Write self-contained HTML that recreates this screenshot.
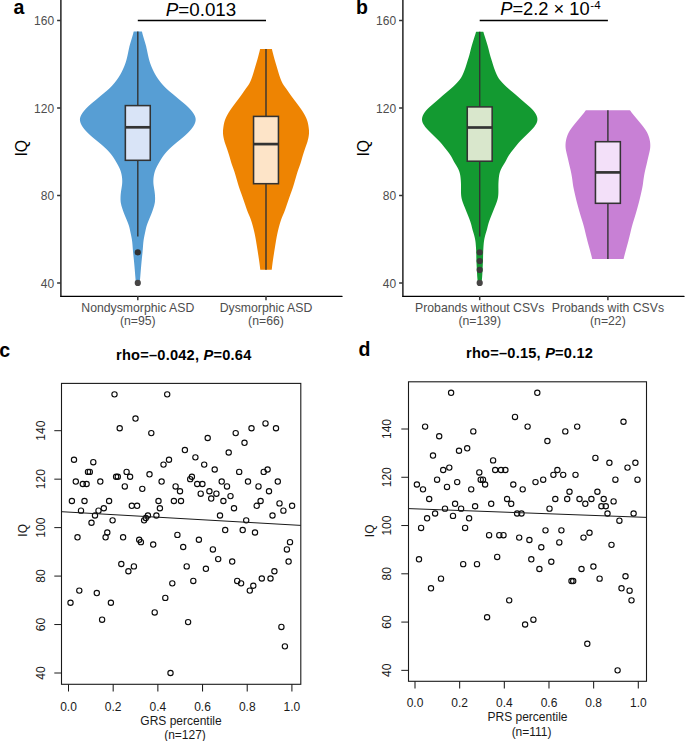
<!DOCTYPE html>
<html><head><meta charset="utf-8"><style>
html,body{margin:0;padding:0;background:#fff;width:685px;height:741px;overflow:hidden}
svg{display:block;font-family:"Liberation Sans", sans-serif}
</style></head><body>
<svg width="685" height="741" viewBox="0 0 685 741">
<line x1="60.90" y1="0" x2="60.90" y2="296.4" stroke="#000" stroke-width="1.3" stroke-linecap="round"/>
<line x1="60.90" y1="296.4" x2="342.00" y2="296.4" stroke="#000" stroke-width="1.3" stroke-linecap="round"/>
<line x1="57.10" y1="283.00" x2="60.90" y2="283.00" stroke="#333" stroke-width="1.5"/>
<text x="54.10" y="287.60" font-size="12" fill="#4d4d4d" text-anchor="end">40</text>
<line x1="57.10" y1="195.50" x2="60.90" y2="195.50" stroke="#333" stroke-width="1.5"/>
<text x="54.10" y="200.10" font-size="12" fill="#4d4d4d" text-anchor="end">80</text>
<line x1="57.10" y1="108.00" x2="60.90" y2="108.00" stroke="#333" stroke-width="1.5"/>
<text x="54.10" y="112.60" font-size="12" fill="#4d4d4d" text-anchor="end">120</text>
<line x1="57.10" y1="20.50" x2="60.90" y2="20.50" stroke="#333" stroke-width="1.5"/>
<text x="54.10" y="25.10" font-size="12" fill="#4d4d4d" text-anchor="end">160</text>
<text transform="translate(27.10,148.2) rotate(-90)" font-size="15.8" fill="#000" text-anchor="middle">IQ</text>
<text x="13.40" y="14.1" font-size="19.5" font-weight="bold" fill="#000">a</text>
<path d="M141.80,31.60 L142.06,32.10 L142.16,32.60 L142.27,33.10 L142.40,33.60 L142.53,34.10 L142.67,34.60 L142.81,35.11 L142.95,35.61 L143.10,36.11 L143.24,36.61 L143.39,37.11 L143.54,37.61 L143.69,38.11 L143.84,38.61 L143.99,39.11 L144.14,39.61 L144.29,40.11 L144.44,40.61 L144.59,41.12 L144.74,41.62 L144.90,42.12 L145.05,42.62 L145.19,43.12 L145.34,43.62 L145.49,44.12 L145.63,44.62 L145.77,45.12 L145.91,45.62 L146.05,46.12 L146.18,46.62 L146.31,47.12 L146.43,47.63 L146.55,48.13 L146.67,48.63 L146.78,49.13 L146.89,49.63 L147.00,50.13 L147.10,50.63 L147.21,51.13 L147.31,51.63 L147.41,52.13 L147.51,52.63 L147.61,53.13 L147.72,53.64 L147.82,54.14 L147.93,54.64 L148.04,55.14 L148.15,55.64 L148.26,56.14 L148.38,56.64 L148.50,57.14 L148.61,57.64 L148.73,58.14 L148.86,58.64 L148.99,59.14 L149.12,59.64 L149.26,60.15 L149.40,60.65 L149.55,61.15 L149.70,61.65 L149.86,62.15 L150.02,62.65 L150.19,63.15 L150.37,63.65 L150.55,64.15 L150.74,64.65 L150.93,65.15 L151.12,65.65 L151.32,66.15 L151.53,66.66 L151.74,67.16 L151.95,67.66 L152.17,68.16 L152.39,68.66 L152.61,69.16 L152.84,69.66 L153.08,70.16 L153.32,70.66 L153.56,71.16 L153.81,71.66 L154.06,72.16 L154.32,72.67 L154.59,73.17 L154.86,73.67 L155.14,74.17 L155.42,74.67 L155.72,75.17 L156.02,75.67 L156.33,76.17 L156.64,76.67 L156.96,77.17 L157.29,77.67 L157.63,78.17 L157.97,78.67 L158.32,79.18 L158.68,79.68 L159.04,80.18 L159.42,80.68 L159.80,81.18 L160.19,81.68 L160.58,82.18 L160.99,82.68 L161.40,83.18 L161.82,83.68 L162.25,84.18 L162.69,84.68 L163.14,85.19 L163.59,85.69 L164.06,86.19 L164.54,86.69 L165.03,87.19 L165.53,87.69 L166.04,88.19 L166.57,88.69 L167.11,89.19 L167.66,89.69 L168.23,90.19 L168.81,90.69 L169.40,91.19 L170.00,91.70 L170.60,92.20 L171.21,92.70 L171.82,93.20 L172.43,93.70 L173.04,94.20 L173.64,94.70 L174.24,95.20 L174.84,95.70 L175.43,96.20 L176.02,96.70 L176.60,97.20 L177.19,97.71 L177.77,98.21 L178.36,98.71 L178.96,99.21 L179.55,99.71 L180.16,100.21 L180.77,100.71 L181.38,101.21 L182.00,101.71 L182.61,102.21 L183.22,102.71 L183.83,103.21 L184.42,103.71 L185.00,104.22 L185.58,104.72 L186.14,105.22 L186.68,105.72 L187.22,106.22 L187.74,106.72 L188.25,107.22 L188.75,107.72 L189.23,108.22 L189.70,108.72 L190.16,109.22 L190.60,109.72 L191.04,110.23 L191.46,110.73 L191.86,111.23 L192.25,111.73 L192.62,112.23 L192.98,112.73 L193.32,113.23 L193.64,113.73 L193.95,114.23 L194.23,114.73 L194.50,115.23 L194.74,115.73 L194.96,116.23 L195.15,116.74 L195.32,117.24 L195.45,117.74 L195.55,118.24 L195.62,118.74 L195.66,119.24 L195.66,119.74 L195.63,120.24 L195.57,120.74 L195.49,121.24 L195.37,121.74 L195.24,122.24 L195.08,122.75 L194.90,123.25 L194.69,123.75 L194.47,124.25 L194.22,124.75 L193.96,125.25 L193.68,125.75 L193.37,126.25 L193.05,126.75 L192.71,127.25 L192.35,127.75 L191.98,128.25 L191.59,128.75 L191.19,129.26 L190.77,129.76 L190.34,130.26 L189.89,130.76 L189.43,131.26 L188.96,131.76 L188.48,132.26 L187.98,132.76 L187.48,133.26 L186.96,133.76 L186.43,134.26 L185.90,134.76 L185.35,135.26 L184.79,135.77 L184.22,136.27 L183.65,136.77 L183.07,137.27 L182.48,137.77 L181.88,138.27 L181.28,138.77 L180.67,139.27 L180.05,139.77 L179.43,140.27 L178.82,140.77 L178.20,141.27 L177.59,141.78 L176.97,142.28 L176.37,142.78 L175.76,143.28 L175.17,143.78 L174.57,144.28 L173.99,144.78 L173.40,145.28 L172.83,145.78 L172.26,146.28 L171.71,146.78 L171.16,147.28 L170.62,147.78 L170.09,148.29 L169.56,148.79 L169.05,149.29 L168.55,149.79 L168.06,150.29 L167.58,150.79 L167.11,151.29 L166.66,151.79 L166.21,152.29 L165.78,152.79 L165.36,153.29 L164.94,153.79 L164.54,154.30 L164.15,154.80 L163.77,155.30 L163.40,155.80 L163.04,156.30 L162.68,156.80 L162.34,157.30 L162.01,157.80 L161.69,158.30 L161.37,158.80 L161.06,159.30 L160.75,159.80 L160.45,160.30 L160.15,160.81 L159.86,161.31 L159.56,161.81 L159.27,162.31 L158.98,162.81 L158.69,163.31 L158.41,163.81 L158.13,164.31 L157.86,164.81 L157.59,165.31 L157.32,165.81 L157.06,166.31 L156.80,166.82 L156.55,167.32 L156.31,167.82 L156.08,168.32 L155.85,168.82 L155.64,169.32 L155.44,169.82 L155.25,170.32 L155.07,170.82 L154.91,171.32 L154.75,171.82 L154.61,172.32 L154.47,172.82 L154.34,173.33 L154.22,173.83 L154.11,174.33 L154.01,174.83 L153.91,175.33 L153.82,175.83 L153.74,176.33 L153.67,176.83 L153.60,177.33 L153.54,177.83 L153.49,178.33 L153.45,178.83 L153.42,179.34 L153.39,179.84 L153.37,180.34 L153.36,180.84 L153.35,181.34 L153.36,181.84 L153.37,182.34 L153.39,182.84 L153.42,183.34 L153.46,183.84 L153.51,184.34 L153.56,184.84 L153.62,185.34 L153.69,185.85 L153.76,186.35 L153.84,186.85 L153.92,187.35 L153.99,187.85 L154.07,188.35 L154.15,188.85 L154.23,189.35 L154.31,189.85 L154.39,190.35 L154.46,190.85 L154.54,191.35 L154.61,191.85 L154.67,192.36 L154.73,192.86 L154.79,193.36 L154.84,193.86 L154.89,194.36 L154.93,194.86 L154.97,195.36 L155.00,195.86 L155.02,196.36 L155.05,196.86 L155.06,197.36 L155.08,197.86 L155.08,198.37 L155.09,198.87 L155.08,199.37 L155.07,199.87 L155.05,200.37 L155.02,200.87 L154.99,201.37 L154.93,201.87 L154.87,202.37 L154.79,202.87 L154.70,203.37 L154.59,203.87 L154.47,204.37 L154.34,204.88 L154.21,205.38 L154.06,205.88 L153.91,206.38 L153.76,206.88 L153.60,207.38 L153.45,207.88 L153.29,208.38 L153.12,208.88 L152.96,209.38 L152.79,209.88 L152.62,210.38 L152.45,210.89 L152.27,211.39 L152.09,211.89 L151.91,212.39 L151.72,212.89 L151.52,213.39 L151.33,213.89 L151.13,214.39 L150.92,214.89 L150.72,215.39 L150.51,215.89 L150.31,216.39 L150.10,216.89 L149.89,217.40 L149.68,217.90 L149.47,218.40 L149.26,218.90 L149.05,219.40 L148.84,219.90 L148.64,220.40 L148.44,220.90 L148.23,221.40 L148.04,221.90 L147.84,222.40 L147.65,222.90 L147.46,223.41 L147.28,223.91 L147.10,224.41 L146.93,224.91 L146.76,225.41 L146.61,225.91 L146.46,226.41 L146.32,226.91 L146.19,227.41 L146.07,227.91 L145.95,228.41 L145.84,228.91 L145.73,229.41 L145.62,229.92 L145.52,230.42 L145.41,230.92 L145.31,231.42 L145.20,231.92 L145.09,232.42 L144.99,232.92 L144.88,233.42 L144.77,233.92 L144.67,234.42 L144.56,234.92 L144.46,235.42 L144.36,235.93 L144.25,236.43 L144.16,236.93 L144.06,237.43 L143.97,237.93 L143.88,238.43 L143.79,238.93 L143.71,239.43 L143.64,239.93 L143.56,240.43 L143.50,240.93 L143.44,241.43 L143.38,241.93 L143.32,242.44 L143.27,242.94 L143.23,243.44 L143.18,243.94 L143.14,244.44 L143.10,244.94 L143.06,245.44 L143.02,245.94 L142.98,246.44 L142.94,246.94 L142.91,247.44 L142.87,247.94 L142.83,248.45 L142.79,248.95 L142.75,249.45 L142.71,249.95 L142.67,250.45 L142.62,250.95 L142.58,251.45 L142.53,251.95 L142.49,252.45 L142.44,252.95 L142.39,253.45 L142.34,253.95 L142.29,254.45 L142.23,254.96 L142.18,255.46 L142.13,255.96 L142.08,256.46 L142.02,256.96 L141.97,257.46 L141.92,257.96 L141.87,258.46 L141.82,258.96 L141.77,259.46 L141.72,259.96 L141.67,260.46 L141.62,260.96 L141.57,261.47 L141.52,261.97 L141.48,262.47 L141.43,262.97 L141.38,263.47 L141.34,263.97 L141.29,264.47 L141.25,264.97 L141.20,265.47 L141.16,265.97 L141.11,266.47 L141.07,266.97 L141.02,267.48 L140.98,267.98 L140.94,268.48 L140.90,268.98 L140.85,269.48 L140.81,269.98 L140.77,270.48 L140.73,270.98 L140.69,271.48 L140.65,271.98 L140.61,272.48 L140.57,272.98 L140.53,273.48 L140.49,273.99 L140.45,274.49 L140.41,274.99 L140.37,275.49 L140.33,275.99 L140.29,276.49 L140.25,276.99 L140.20,277.49 L140.16,277.99 L140.12,278.49 L140.07,278.99 L140.03,279.49 L139.98,280.00 L139.94,280.50 L139.90,281.00 L139.86,281.50 L139.82,282.00 L139.79,282.50 L139.70,283.00 L135.90,283.00 L135.81,282.50 L135.78,282.00 L135.74,281.50 L135.70,281.00 L135.66,280.50 L135.62,280.00 L135.57,279.49 L135.53,278.99 L135.48,278.49 L135.44,277.99 L135.40,277.49 L135.35,276.99 L135.31,276.49 L135.27,275.99 L135.23,275.49 L135.19,274.99 L135.15,274.49 L135.11,273.99 L135.07,273.48 L135.03,272.98 L134.99,272.48 L134.95,271.98 L134.91,271.48 L134.87,270.98 L134.83,270.48 L134.79,269.98 L134.75,269.48 L134.70,268.98 L134.66,268.48 L134.62,267.98 L134.58,267.48 L134.53,266.97 L134.49,266.47 L134.44,265.97 L134.40,265.47 L134.35,264.97 L134.31,264.47 L134.26,263.97 L134.22,263.47 L134.17,262.97 L134.12,262.47 L134.08,261.97 L134.03,261.47 L133.98,260.96 L133.93,260.46 L133.88,259.96 L133.83,259.46 L133.78,258.96 L133.73,258.46 L133.68,257.96 L133.63,257.46 L133.58,256.96 L133.52,256.46 L133.47,255.96 L133.42,255.46 L133.37,254.96 L133.31,254.45 L133.26,253.95 L133.21,253.45 L133.16,252.95 L133.11,252.45 L133.07,251.95 L133.02,251.45 L132.98,250.95 L132.93,250.45 L132.89,249.95 L132.85,249.45 L132.81,248.95 L132.77,248.45 L132.73,247.94 L132.69,247.44 L132.66,246.94 L132.62,246.44 L132.58,245.94 L132.54,245.44 L132.50,244.94 L132.46,244.44 L132.42,243.94 L132.37,243.44 L132.33,242.94 L132.28,242.44 L132.22,241.93 L132.16,241.43 L132.10,240.93 L132.04,240.43 L131.96,239.93 L131.89,239.43 L131.81,238.93 L131.72,238.43 L131.63,237.93 L131.54,237.43 L131.44,236.93 L131.35,236.43 L131.24,235.93 L131.14,235.42 L131.04,234.92 L130.93,234.42 L130.83,233.92 L130.72,233.42 L130.61,232.92 L130.51,232.42 L130.40,231.92 L130.29,231.42 L130.19,230.92 L130.08,230.42 L129.98,229.92 L129.87,229.41 L129.76,228.91 L129.65,228.41 L129.53,227.91 L129.41,227.41 L129.28,226.91 L129.14,226.41 L128.99,225.91 L128.84,225.41 L128.67,224.91 L128.50,224.41 L128.32,223.91 L128.14,223.41 L127.95,222.90 L127.76,222.40 L127.56,221.90 L127.37,221.40 L127.16,220.90 L126.96,220.40 L126.76,219.90 L126.55,219.40 L126.34,218.90 L126.13,218.40 L125.92,217.90 L125.71,217.40 L125.50,216.89 L125.29,216.39 L125.09,215.89 L124.88,215.39 L124.68,214.89 L124.47,214.39 L124.27,213.89 L124.08,213.39 L123.88,212.89 L123.69,212.39 L123.51,211.89 L123.33,211.39 L123.15,210.89 L122.98,210.38 L122.81,209.88 L122.64,209.38 L122.48,208.88 L122.31,208.38 L122.15,207.88 L122.00,207.38 L121.84,206.88 L121.69,206.38 L121.54,205.88 L121.39,205.38 L121.26,204.88 L121.13,204.37 L121.01,203.87 L120.90,203.37 L120.81,202.87 L120.73,202.37 L120.67,201.87 L120.61,201.37 L120.58,200.87 L120.55,200.37 L120.53,199.87 L120.52,199.37 L120.51,198.87 L120.52,198.37 L120.52,197.86 L120.54,197.36 L120.55,196.86 L120.58,196.36 L120.60,195.86 L120.63,195.36 L120.67,194.86 L120.71,194.36 L120.76,193.86 L120.81,193.36 L120.87,192.86 L120.93,192.36 L120.99,191.85 L121.06,191.35 L121.14,190.85 L121.21,190.35 L121.29,189.85 L121.37,189.35 L121.45,188.85 L121.53,188.35 L121.61,187.85 L121.68,187.35 L121.76,186.85 L121.84,186.35 L121.91,185.85 L121.98,185.34 L122.04,184.84 L122.09,184.34 L122.14,183.84 L122.18,183.34 L122.21,182.84 L122.23,182.34 L122.24,181.84 L122.25,181.34 L122.24,180.84 L122.23,180.34 L122.21,179.84 L122.18,179.34 L122.15,178.83 L122.11,178.33 L122.06,177.83 L122.00,177.33 L121.93,176.83 L121.86,176.33 L121.78,175.83 L121.69,175.33 L121.59,174.83 L121.49,174.33 L121.38,173.83 L121.26,173.33 L121.13,172.82 L120.99,172.32 L120.85,171.82 L120.69,171.32 L120.53,170.82 L120.35,170.32 L120.16,169.82 L119.96,169.32 L119.75,168.82 L119.52,168.32 L119.29,167.82 L119.05,167.32 L118.80,166.82 L118.54,166.31 L118.28,165.81 L118.01,165.31 L117.74,164.81 L117.47,164.31 L117.19,163.81 L116.91,163.31 L116.62,162.81 L116.33,162.31 L116.04,161.81 L115.74,161.31 L115.45,160.81 L115.15,160.30 L114.85,159.80 L114.54,159.30 L114.23,158.80 L113.91,158.30 L113.59,157.80 L113.26,157.30 L112.92,156.80 L112.56,156.30 L112.20,155.80 L111.83,155.30 L111.45,154.80 L111.06,154.30 L110.66,153.79 L110.24,153.29 L109.82,152.79 L109.39,152.29 L108.94,151.79 L108.49,151.29 L108.02,150.79 L107.54,150.29 L107.05,149.79 L106.55,149.29 L106.04,148.79 L105.51,148.29 L104.98,147.78 L104.44,147.28 L103.89,146.78 L103.34,146.28 L102.77,145.78 L102.20,145.28 L101.61,144.78 L101.03,144.28 L100.43,143.78 L99.84,143.28 L99.23,142.78 L98.63,142.28 L98.01,141.78 L97.40,141.27 L96.78,140.77 L96.17,140.27 L95.55,139.77 L94.93,139.27 L94.32,138.77 L93.72,138.27 L93.12,137.77 L92.53,137.27 L91.95,136.77 L91.38,136.27 L90.81,135.77 L90.25,135.26 L89.70,134.76 L89.17,134.26 L88.64,133.76 L88.12,133.26 L87.62,132.76 L87.12,132.26 L86.64,131.76 L86.17,131.26 L85.71,130.76 L85.26,130.26 L84.83,129.76 L84.41,129.26 L84.01,128.75 L83.62,128.25 L83.25,127.75 L82.89,127.25 L82.55,126.75 L82.23,126.25 L81.92,125.75 L81.64,125.25 L81.38,124.75 L81.13,124.25 L80.91,123.75 L80.70,123.25 L80.52,122.75 L80.36,122.24 L80.23,121.74 L80.11,121.24 L80.03,120.74 L79.97,120.24 L79.94,119.74 L79.94,119.24 L79.98,118.74 L80.05,118.24 L80.15,117.74 L80.28,117.24 L80.45,116.74 L80.64,116.23 L80.86,115.73 L81.10,115.23 L81.37,114.73 L81.65,114.23 L81.96,113.73 L82.28,113.23 L82.62,112.73 L82.98,112.23 L83.35,111.73 L83.74,111.23 L84.14,110.73 L84.56,110.23 L85.00,109.72 L85.44,109.22 L85.90,108.72 L86.37,108.22 L86.85,107.72 L87.35,107.22 L87.86,106.72 L88.38,106.22 L88.92,105.72 L89.46,105.22 L90.02,104.72 L90.60,104.22 L91.18,103.71 L91.77,103.21 L92.38,102.71 L92.99,102.21 L93.60,101.71 L94.22,101.21 L94.83,100.71 L95.44,100.21 L96.05,99.71 L96.64,99.21 L97.24,98.71 L97.83,98.21 L98.41,97.71 L99.00,97.20 L99.58,96.70 L100.17,96.20 L100.76,95.70 L101.36,95.20 L101.96,94.70 L102.56,94.20 L103.17,93.70 L103.78,93.20 L104.39,92.70 L105.00,92.20 L105.60,91.70 L106.20,91.19 L106.79,90.69 L107.37,90.19 L107.94,89.69 L108.49,89.19 L109.03,88.69 L109.56,88.19 L110.07,87.69 L110.57,87.19 L111.06,86.69 L111.54,86.19 L112.01,85.69 L112.46,85.19 L112.91,84.68 L113.35,84.18 L113.78,83.68 L114.20,83.18 L114.61,82.68 L115.02,82.18 L115.41,81.68 L115.80,81.18 L116.18,80.68 L116.56,80.18 L116.92,79.68 L117.28,79.18 L117.63,78.67 L117.97,78.17 L118.31,77.67 L118.64,77.17 L118.96,76.67 L119.27,76.17 L119.58,75.67 L119.88,75.17 L120.18,74.67 L120.46,74.17 L120.74,73.67 L121.01,73.17 L121.28,72.67 L121.54,72.16 L121.79,71.66 L122.04,71.16 L122.28,70.66 L122.52,70.16 L122.76,69.66 L122.99,69.16 L123.21,68.66 L123.43,68.16 L123.65,67.66 L123.86,67.16 L124.07,66.66 L124.28,66.15 L124.48,65.65 L124.67,65.15 L124.86,64.65 L125.05,64.15 L125.23,63.65 L125.41,63.15 L125.58,62.65 L125.74,62.15 L125.90,61.65 L126.05,61.15 L126.20,60.65 L126.34,60.15 L126.48,59.64 L126.61,59.14 L126.74,58.64 L126.87,58.14 L126.99,57.64 L127.10,57.14 L127.22,56.64 L127.34,56.14 L127.45,55.64 L127.56,55.14 L127.67,54.64 L127.78,54.14 L127.88,53.64 L127.99,53.13 L128.09,52.63 L128.19,52.13 L128.29,51.63 L128.39,51.13 L128.50,50.63 L128.60,50.13 L128.71,49.63 L128.82,49.13 L128.93,48.63 L129.05,48.13 L129.17,47.63 L129.29,47.12 L129.42,46.62 L129.55,46.12 L129.69,45.62 L129.83,45.12 L129.97,44.62 L130.11,44.12 L130.26,43.62 L130.41,43.12 L130.55,42.62 L130.70,42.12 L130.86,41.62 L131.01,41.12 L131.16,40.61 L131.31,40.11 L131.46,39.61 L131.61,39.11 L131.76,38.61 L131.91,38.11 L132.06,37.61 L132.21,37.11 L132.36,36.61 L132.50,36.11 L132.65,35.61 L132.79,35.11 L132.93,34.60 L133.07,34.10 L133.20,33.60 L133.33,33.10 L133.44,32.60 L133.54,32.10 L133.80,31.60 Z" fill="#579ed4"/>
<line x1="137.80" y1="31.60" x2="137.80" y2="105.60" stroke="#333333" stroke-width="1.4"/>
<line x1="137.80" y1="160.30" x2="137.80" y2="236.60" stroke="#333333" stroke-width="1.4"/>
<rect x="125.35" y="105.60" width="24.90" height="54.70" fill="#d9e4f7" stroke="#333333" stroke-width="1.55"/>
<line x1="125.35" y1="127.30" x2="150.25" y2="127.30" stroke="#333333" stroke-width="2.7"/>
<circle cx="137.80" cy="252.40" r="3.1" fill="#303030"/>
<circle cx="137.80" cy="282.90" r="3.1" fill="#474545"/>
<path d="M271.80,49.00 L272.05,49.50 L272.14,50.00 L272.24,50.50 L272.36,51.00 L272.48,51.50 L272.61,52.00 L272.74,52.50 L272.87,53.01 L273.00,53.51 L273.13,54.01 L273.26,54.51 L273.39,55.01 L273.52,55.51 L273.65,56.01 L273.78,56.51 L273.91,57.01 L274.04,57.51 L274.18,58.01 L274.32,58.51 L274.46,59.01 L274.60,59.51 L274.74,60.01 L274.89,60.52 L275.04,61.02 L275.19,61.52 L275.34,62.02 L275.48,62.52 L275.63,63.02 L275.78,63.52 L275.93,64.02 L276.08,64.52 L276.23,65.02 L276.38,65.52 L276.53,66.02 L276.68,66.52 L276.83,67.02 L276.97,67.53 L277.12,68.03 L277.27,68.53 L277.42,69.03 L277.56,69.53 L277.71,70.03 L277.86,70.53 L278.00,71.03 L278.15,71.53 L278.30,72.03 L278.45,72.53 L278.60,73.03 L278.75,73.53 L278.90,74.03 L279.06,74.53 L279.22,75.04 L279.38,75.54 L279.55,76.04 L279.72,76.54 L279.89,77.04 L280.06,77.54 L280.24,78.04 L280.43,78.54 L280.61,79.04 L280.81,79.54 L281.01,80.04 L281.21,80.54 L281.43,81.04 L281.65,81.54 L281.88,82.04 L282.12,82.55 L282.37,83.05 L282.64,83.55 L282.93,84.05 L283.23,84.55 L283.55,85.05 L283.89,85.55 L284.25,86.05 L284.61,86.55 L284.98,87.05 L285.35,87.55 L285.72,88.05 L286.08,88.55 L286.44,89.05 L286.79,89.56 L287.14,90.06 L287.49,90.56 L287.84,91.06 L288.18,91.56 L288.52,92.06 L288.87,92.56 L289.21,93.06 L289.56,93.56 L289.90,94.06 L290.25,94.56 L290.61,95.06 L290.96,95.56 L291.32,96.06 L291.69,96.56 L292.05,97.07 L292.42,97.57 L292.79,98.07 L293.17,98.57 L293.55,99.07 L293.93,99.57 L294.31,100.07 L294.69,100.57 L295.07,101.07 L295.45,101.57 L295.83,102.07 L296.21,102.57 L296.58,103.07 L296.96,103.57 L297.33,104.07 L297.70,104.58 L298.07,105.08 L298.44,105.58 L298.81,106.08 L299.18,106.58 L299.54,107.08 L299.91,107.58 L300.27,108.08 L300.63,108.58 L300.98,109.08 L301.33,109.58 L301.67,110.08 L302.00,110.58 L302.33,111.08 L302.66,111.59 L302.97,112.09 L303.28,112.59 L303.58,113.09 L303.87,113.59 L304.16,114.09 L304.44,114.59 L304.71,115.09 L304.98,115.59 L305.23,116.09 L305.49,116.59 L305.73,117.09 L305.97,117.59 L306.19,118.09 L306.41,118.59 L306.62,119.10 L306.81,119.60 L307.00,120.10 L307.17,120.60 L307.33,121.10 L307.48,121.60 L307.62,122.10 L307.75,122.60 L307.87,123.10 L307.99,123.60 L308.09,124.10 L308.19,124.60 L308.28,125.10 L308.36,125.60 L308.44,126.10 L308.52,126.61 L308.59,127.11 L308.66,127.61 L308.72,128.11 L308.78,128.61 L308.84,129.11 L308.89,129.61 L308.94,130.11 L308.98,130.61 L309.00,131.11 L309.02,131.61 L309.03,132.11 L309.02,132.61 L309.01,133.11 L308.98,133.61 L308.94,134.12 L308.90,134.62 L308.84,135.12 L308.78,135.62 L308.71,136.12 L308.63,136.62 L308.54,137.12 L308.45,137.62 L308.35,138.12 L308.24,138.62 L308.12,139.12 L308.00,139.62 L307.86,140.12 L307.73,140.62 L307.58,141.13 L307.43,141.63 L307.27,142.13 L307.11,142.63 L306.94,143.13 L306.77,143.63 L306.59,144.13 L306.42,144.63 L306.24,145.13 L306.06,145.63 L305.88,146.13 L305.70,146.63 L305.52,147.13 L305.35,147.63 L305.17,148.13 L305.00,148.64 L304.83,149.14 L304.66,149.64 L304.50,150.14 L304.33,150.64 L304.17,151.14 L304.00,151.64 L303.84,152.14 L303.68,152.64 L303.52,153.14 L303.36,153.64 L303.20,154.14 L303.04,154.64 L302.89,155.14 L302.73,155.64 L302.58,156.15 L302.43,156.65 L302.28,157.15 L302.14,157.65 L302.00,158.15 L301.86,158.65 L301.72,159.15 L301.58,159.65 L301.44,160.15 L301.30,160.65 L301.16,161.15 L301.02,161.65 L300.87,162.15 L300.71,162.65 L300.55,163.16 L300.39,163.66 L300.22,164.16 L300.05,164.66 L299.87,165.16 L299.69,165.66 L299.51,166.16 L299.33,166.66 L299.14,167.16 L298.96,167.66 L298.78,168.16 L298.60,168.66 L298.42,169.16 L298.24,169.66 L298.07,170.16 L297.90,170.67 L297.73,171.17 L297.57,171.67 L297.41,172.17 L297.25,172.67 L297.09,173.17 L296.94,173.67 L296.79,174.17 L296.64,174.67 L296.50,175.17 L296.35,175.67 L296.21,176.17 L296.06,176.67 L295.92,177.17 L295.77,177.67 L295.63,178.18 L295.48,178.68 L295.34,179.18 L295.19,179.68 L295.05,180.18 L294.90,180.68 L294.76,181.18 L294.61,181.68 L294.47,182.18 L294.32,182.68 L294.18,183.18 L294.03,183.68 L293.88,184.18 L293.73,184.68 L293.58,185.19 L293.43,185.69 L293.27,186.19 L293.11,186.69 L292.95,187.19 L292.79,187.69 L292.62,188.19 L292.45,188.69 L292.28,189.19 L292.10,189.69 L291.92,190.19 L291.74,190.69 L291.56,191.19 L291.38,191.69 L291.20,192.19 L291.02,192.70 L290.84,193.20 L290.65,193.70 L290.47,194.20 L290.29,194.70 L290.11,195.20 L289.94,195.70 L289.76,196.20 L289.58,196.70 L289.41,197.20 L289.23,197.70 L289.06,198.20 L288.89,198.70 L288.71,199.20 L288.54,199.70 L288.37,200.21 L288.20,200.71 L288.02,201.21 L287.85,201.71 L287.68,202.21 L287.51,202.71 L287.34,203.21 L287.17,203.71 L286.99,204.21 L286.82,204.71 L286.65,205.21 L286.48,205.71 L286.32,206.21 L286.15,206.71 L285.98,207.21 L285.81,207.72 L285.63,208.22 L285.46,208.72 L285.29,209.22 L285.11,209.72 L284.93,210.22 L284.74,210.72 L284.55,211.22 L284.36,211.72 L284.16,212.22 L283.96,212.72 L283.75,213.22 L283.54,213.72 L283.32,214.22 L283.11,214.73 L282.89,215.23 L282.67,215.73 L282.46,216.23 L282.25,216.73 L282.04,217.23 L281.84,217.73 L281.65,218.23 L281.46,218.73 L281.28,219.23 L281.10,219.73 L280.93,220.23 L280.77,220.73 L280.61,221.23 L280.45,221.73 L280.29,222.24 L280.14,222.74 L279.99,223.24 L279.85,223.74 L279.70,224.24 L279.56,224.74 L279.42,225.24 L279.28,225.74 L279.14,226.24 L279.01,226.74 L278.88,227.24 L278.75,227.74 L278.62,228.24 L278.49,228.74 L278.37,229.24 L278.24,229.75 L278.12,230.25 L278.00,230.75 L277.89,231.25 L277.77,231.75 L277.66,232.25 L277.55,232.75 L277.44,233.25 L277.33,233.75 L277.23,234.25 L277.12,234.75 L277.02,235.25 L276.92,235.75 L276.82,236.25 L276.72,236.76 L276.63,237.26 L276.53,237.76 L276.44,238.26 L276.35,238.76 L276.26,239.26 L276.18,239.76 L276.09,240.26 L276.01,240.76 L275.92,241.26 L275.84,241.76 L275.76,242.26 L275.68,242.76 L275.60,243.26 L275.52,243.76 L275.43,244.27 L275.35,244.77 L275.27,245.27 L275.19,245.77 L275.11,246.27 L275.03,246.77 L274.95,247.27 L274.87,247.77 L274.79,248.27 L274.71,248.77 L274.63,249.27 L274.55,249.77 L274.47,250.27 L274.39,250.77 L274.31,251.27 L274.23,251.78 L274.15,252.28 L274.08,252.78 L274.00,253.28 L273.92,253.78 L273.84,254.28 L273.77,254.78 L273.69,255.28 L273.61,255.78 L273.53,256.28 L273.46,256.78 L273.38,257.28 L273.31,257.78 L273.23,258.28 L273.16,258.79 L273.08,259.29 L273.01,259.79 L272.93,260.29 L272.86,260.79 L272.79,261.29 L272.72,261.79 L272.65,262.29 L272.58,262.79 L272.51,263.29 L272.45,263.79 L272.38,264.29 L272.32,264.79 L272.25,265.29 L272.19,265.79 L272.13,266.30 L272.07,266.80 L272.01,267.30 L271.95,267.80 L271.90,268.30 L271.85,268.80 L271.81,269.30 L271.70,269.80 L260.30,269.80 L260.19,269.30 L260.15,268.80 L260.10,268.30 L260.05,267.80 L259.99,267.30 L259.93,266.80 L259.87,266.30 L259.81,265.79 L259.75,265.29 L259.68,264.79 L259.62,264.29 L259.55,263.79 L259.49,263.29 L259.42,262.79 L259.35,262.29 L259.28,261.79 L259.21,261.29 L259.14,260.79 L259.07,260.29 L258.99,259.79 L258.92,259.29 L258.84,258.79 L258.77,258.28 L258.69,257.78 L258.62,257.28 L258.54,256.78 L258.47,256.28 L258.39,255.78 L258.31,255.28 L258.23,254.78 L258.16,254.28 L258.08,253.78 L258.00,253.28 L257.92,252.78 L257.85,252.28 L257.77,251.78 L257.69,251.27 L257.61,250.77 L257.53,250.27 L257.45,249.77 L257.37,249.27 L257.29,248.77 L257.21,248.27 L257.13,247.77 L257.05,247.27 L256.97,246.77 L256.89,246.27 L256.81,245.77 L256.73,245.27 L256.65,244.77 L256.57,244.27 L256.48,243.76 L256.40,243.26 L256.32,242.76 L256.24,242.26 L256.16,241.76 L256.08,241.26 L255.99,240.76 L255.91,240.26 L255.82,239.76 L255.74,239.26 L255.65,238.76 L255.56,238.26 L255.47,237.76 L255.37,237.26 L255.28,236.76 L255.18,236.25 L255.08,235.75 L254.98,235.25 L254.88,234.75 L254.77,234.25 L254.67,233.75 L254.56,233.25 L254.45,232.75 L254.34,232.25 L254.23,231.75 L254.11,231.25 L254.00,230.75 L253.88,230.25 L253.76,229.75 L253.63,229.24 L253.51,228.74 L253.38,228.24 L253.25,227.74 L253.12,227.24 L252.99,226.74 L252.86,226.24 L252.72,225.74 L252.58,225.24 L252.44,224.74 L252.30,224.24 L252.15,223.74 L252.01,223.24 L251.86,222.74 L251.71,222.24 L251.55,221.73 L251.39,221.23 L251.23,220.73 L251.07,220.23 L250.90,219.73 L250.72,219.23 L250.54,218.73 L250.35,218.23 L250.16,217.73 L249.96,217.23 L249.75,216.73 L249.54,216.23 L249.33,215.73 L249.11,215.23 L248.89,214.73 L248.68,214.22 L248.46,213.72 L248.25,213.22 L248.04,212.72 L247.84,212.22 L247.64,211.72 L247.45,211.22 L247.26,210.72 L247.07,210.22 L246.89,209.72 L246.71,209.22 L246.54,208.72 L246.37,208.22 L246.19,207.72 L246.02,207.21 L245.85,206.71 L245.68,206.21 L245.52,205.71 L245.35,205.21 L245.18,204.71 L245.01,204.21 L244.83,203.71 L244.66,203.21 L244.49,202.71 L244.32,202.21 L244.15,201.71 L243.98,201.21 L243.80,200.71 L243.63,200.21 L243.46,199.70 L243.29,199.20 L243.11,198.70 L242.94,198.20 L242.77,197.70 L242.59,197.20 L242.42,196.70 L242.24,196.20 L242.06,195.70 L241.89,195.20 L241.71,194.70 L241.53,194.20 L241.35,193.70 L241.16,193.20 L240.98,192.70 L240.80,192.19 L240.62,191.69 L240.44,191.19 L240.26,190.69 L240.08,190.19 L239.90,189.69 L239.72,189.19 L239.55,188.69 L239.38,188.19 L239.21,187.69 L239.05,187.19 L238.89,186.69 L238.73,186.19 L238.57,185.69 L238.42,185.19 L238.27,184.68 L238.12,184.18 L237.97,183.68 L237.82,183.18 L237.68,182.68 L237.53,182.18 L237.39,181.68 L237.24,181.18 L237.10,180.68 L236.95,180.18 L236.81,179.68 L236.66,179.18 L236.52,178.68 L236.37,178.18 L236.23,177.67 L236.08,177.17 L235.94,176.67 L235.79,176.17 L235.65,175.67 L235.50,175.17 L235.36,174.67 L235.21,174.17 L235.06,173.67 L234.91,173.17 L234.75,172.67 L234.59,172.17 L234.43,171.67 L234.27,171.17 L234.10,170.67 L233.93,170.16 L233.76,169.66 L233.58,169.16 L233.40,168.66 L233.22,168.16 L233.04,167.66 L232.86,167.16 L232.67,166.66 L232.49,166.16 L232.31,165.66 L232.13,165.16 L231.95,164.66 L231.78,164.16 L231.61,163.66 L231.45,163.16 L231.29,162.65 L231.13,162.15 L230.98,161.65 L230.84,161.15 L230.70,160.65 L230.56,160.15 L230.42,159.65 L230.28,159.15 L230.14,158.65 L230.00,158.15 L229.86,157.65 L229.72,157.15 L229.57,156.65 L229.42,156.15 L229.27,155.64 L229.11,155.14 L228.96,154.64 L228.80,154.14 L228.64,153.64 L228.48,153.14 L228.32,152.64 L228.16,152.14 L228.00,151.64 L227.83,151.14 L227.67,150.64 L227.50,150.14 L227.34,149.64 L227.17,149.14 L227.00,148.64 L226.83,148.13 L226.65,147.63 L226.48,147.13 L226.30,146.63 L226.12,146.13 L225.94,145.63 L225.76,145.13 L225.58,144.63 L225.41,144.13 L225.23,143.63 L225.06,143.13 L224.89,142.63 L224.73,142.13 L224.57,141.63 L224.42,141.13 L224.27,140.62 L224.14,140.12 L224.00,139.62 L223.88,139.12 L223.76,138.62 L223.65,138.12 L223.55,137.62 L223.46,137.12 L223.37,136.62 L223.29,136.12 L223.22,135.62 L223.16,135.12 L223.10,134.62 L223.06,134.12 L223.02,133.61 L222.99,133.11 L222.98,132.61 L222.97,132.11 L222.98,131.61 L223.00,131.11 L223.02,130.61 L223.06,130.11 L223.11,129.61 L223.16,129.11 L223.22,128.61 L223.28,128.11 L223.34,127.61 L223.41,127.11 L223.48,126.61 L223.56,126.10 L223.64,125.60 L223.72,125.10 L223.81,124.60 L223.91,124.10 L224.01,123.60 L224.13,123.10 L224.25,122.60 L224.38,122.10 L224.52,121.60 L224.67,121.10 L224.83,120.60 L225.00,120.10 L225.19,119.60 L225.38,119.10 L225.59,118.59 L225.81,118.09 L226.03,117.59 L226.27,117.09 L226.51,116.59 L226.77,116.09 L227.02,115.59 L227.29,115.09 L227.56,114.59 L227.84,114.09 L228.13,113.59 L228.42,113.09 L228.72,112.59 L229.03,112.09 L229.34,111.59 L229.67,111.08 L230.00,110.58 L230.33,110.08 L230.67,109.58 L231.02,109.08 L231.37,108.58 L231.73,108.08 L232.09,107.58 L232.46,107.08 L232.82,106.58 L233.19,106.08 L233.56,105.58 L233.93,105.08 L234.30,104.58 L234.67,104.07 L235.04,103.57 L235.42,103.07 L235.79,102.57 L236.17,102.07 L236.55,101.57 L236.93,101.07 L237.31,100.57 L237.69,100.07 L238.07,99.57 L238.45,99.07 L238.83,98.57 L239.21,98.07 L239.58,97.57 L239.95,97.07 L240.31,96.56 L240.68,96.06 L241.04,95.56 L241.39,95.06 L241.75,94.56 L242.10,94.06 L242.44,93.56 L242.79,93.06 L243.13,92.56 L243.48,92.06 L243.82,91.56 L244.16,91.06 L244.51,90.56 L244.86,90.06 L245.21,89.56 L245.56,89.05 L245.92,88.55 L246.28,88.05 L246.65,87.55 L247.02,87.05 L247.39,86.55 L247.75,86.05 L248.11,85.55 L248.45,85.05 L248.77,84.55 L249.07,84.05 L249.36,83.55 L249.63,83.05 L249.88,82.55 L250.12,82.04 L250.35,81.54 L250.57,81.04 L250.79,80.54 L250.99,80.04 L251.19,79.54 L251.39,79.04 L251.57,78.54 L251.76,78.04 L251.94,77.54 L252.11,77.04 L252.28,76.54 L252.45,76.04 L252.62,75.54 L252.78,75.04 L252.94,74.53 L253.10,74.03 L253.25,73.53 L253.40,73.03 L253.55,72.53 L253.70,72.03 L253.85,71.53 L254.00,71.03 L254.14,70.53 L254.29,70.03 L254.44,69.53 L254.58,69.03 L254.73,68.53 L254.88,68.03 L255.03,67.53 L255.17,67.02 L255.32,66.52 L255.47,66.02 L255.62,65.52 L255.77,65.02 L255.92,64.52 L256.07,64.02 L256.22,63.52 L256.37,63.02 L256.52,62.52 L256.66,62.02 L256.81,61.52 L256.96,61.02 L257.11,60.52 L257.26,60.01 L257.40,59.51 L257.54,59.01 L257.68,58.51 L257.82,58.01 L257.96,57.51 L258.09,57.01 L258.22,56.51 L258.35,56.01 L258.48,55.51 L258.61,55.01 L258.74,54.51 L258.87,54.01 L259.00,53.51 L259.13,53.01 L259.26,52.50 L259.39,52.00 L259.52,51.50 L259.64,51.00 L259.76,50.50 L259.86,50.00 L259.95,49.50 L260.20,49.00 Z" fill="#ee8402"/>
<line x1="266.00" y1="49.00" x2="266.00" y2="116.40" stroke="#333333" stroke-width="1.4"/>
<line x1="266.00" y1="183.70" x2="266.00" y2="269.80" stroke="#333333" stroke-width="1.4"/>
<rect x="253.55" y="116.40" width="24.90" height="67.30" fill="#fde4c8" stroke="#333333" stroke-width="1.55"/>
<line x1="253.55" y1="144.10" x2="278.45" y2="144.10" stroke="#333333" stroke-width="2.7"/>
<line x1="137.80" y1="296" x2="137.80" y2="300.2" stroke="#333" stroke-width="1.5"/>
<text x="137.80" y="312.3" font-size="12.25" fill="#4d4d4d" text-anchor="middle">Nondysmorphic ASD</text>
<text x="137.80" y="325.3" font-size="12.25" fill="#4d4d4d" text-anchor="middle">(n=95)</text>
<line x1="266.00" y1="296" x2="266.00" y2="300.2" stroke="#333" stroke-width="1.5"/>
<text x="266.00" y="312.3" font-size="12.25" fill="#4d4d4d" text-anchor="middle">Dysmorphic ASD</text>
<text x="266.00" y="325.3" font-size="12.25" fill="#4d4d4d" text-anchor="middle">(n=66)</text>
<line x1="137.80" y1="20.5" x2="266.00" y2="20.5" stroke="#000" stroke-width="1.3"/>
<text x="201.0" y="16.2" font-size="18.8" fill="#000" text-anchor="middle"><tspan font-style="italic">P</tspan>=0.013</text>
<line x1="402.90" y1="0" x2="402.90" y2="296.4" stroke="#000" stroke-width="1.3" stroke-linecap="round"/>
<line x1="402.90" y1="296.4" x2="684.00" y2="296.4" stroke="#000" stroke-width="1.3" stroke-linecap="round"/>
<line x1="399.10" y1="283.00" x2="402.90" y2="283.00" stroke="#333" stroke-width="1.5"/>
<text x="396.10" y="287.60" font-size="12" fill="#4d4d4d" text-anchor="end">40</text>
<line x1="399.10" y1="195.50" x2="402.90" y2="195.50" stroke="#333" stroke-width="1.5"/>
<text x="396.10" y="200.10" font-size="12" fill="#4d4d4d" text-anchor="end">80</text>
<line x1="399.10" y1="108.00" x2="402.90" y2="108.00" stroke="#333" stroke-width="1.5"/>
<text x="396.10" y="112.60" font-size="12" fill="#4d4d4d" text-anchor="end">120</text>
<line x1="399.10" y1="20.50" x2="402.90" y2="20.50" stroke="#333" stroke-width="1.5"/>
<text x="396.10" y="25.10" font-size="12" fill="#4d4d4d" text-anchor="end">160</text>
<text transform="translate(369.10,148.2) rotate(-90)" font-size="15.8" fill="#000" text-anchor="middle">IQ</text>
<text x="356.00" y="14.1" font-size="19.5" font-weight="bold" fill="#000">b</text>
<path d="M483.20,31.80 L483.51,32.30 L483.62,32.80 L483.76,33.30 L483.90,33.80 L484.06,34.30 L484.22,34.80 L484.38,35.30 L484.55,35.80 L484.71,36.30 L484.87,36.80 L485.03,37.30 L485.19,37.80 L485.35,38.31 L485.51,38.81 L485.67,39.31 L485.82,39.81 L485.98,40.31 L486.14,40.81 L486.29,41.31 L486.45,41.81 L486.60,42.31 L486.76,42.81 L486.91,43.31 L487.06,43.81 L487.21,44.31 L487.36,44.81 L487.50,45.31 L487.65,45.81 L487.79,46.31 L487.93,46.81 L488.07,47.31 L488.20,47.81 L488.34,48.31 L488.47,48.81 L488.59,49.31 L488.72,49.81 L488.84,50.31 L488.96,50.82 L489.08,51.32 L489.21,51.82 L489.33,52.32 L489.45,52.82 L489.58,53.32 L489.71,53.82 L489.84,54.32 L489.97,54.82 L490.11,55.32 L490.25,55.82 L490.40,56.32 L490.55,56.82 L490.70,57.32 L490.85,57.82 L491.01,58.32 L491.17,58.82 L491.33,59.32 L491.48,59.82 L491.64,60.32 L491.80,60.82 L491.96,61.32 L492.11,61.82 L492.27,62.32 L492.42,62.82 L492.57,63.33 L492.72,63.83 L492.88,64.33 L493.03,64.83 L493.18,65.33 L493.34,65.83 L493.50,66.33 L493.66,66.83 L493.82,67.33 L493.99,67.83 L494.16,68.33 L494.34,68.83 L494.52,69.33 L494.71,69.83 L494.90,70.33 L495.09,70.83 L495.29,71.33 L495.48,71.83 L495.69,72.33 L495.89,72.83 L496.11,73.33 L496.32,73.83 L496.54,74.33 L496.77,74.83 L497.00,75.33 L497.25,75.84 L497.50,76.34 L497.77,76.84 L498.05,77.34 L498.35,77.84 L498.67,78.34 L499.01,78.84 L499.38,79.34 L499.76,79.84 L500.17,80.34 L500.59,80.84 L501.02,81.34 L501.47,81.84 L501.92,82.34 L502.38,82.84 L502.85,83.34 L503.33,83.84 L503.81,84.34 L504.30,84.84 L504.80,85.34 L505.31,85.84 L505.83,86.34 L506.36,86.84 L506.91,87.34 L507.47,87.84 L508.03,88.35 L508.61,88.85 L509.19,89.35 L509.78,89.85 L510.37,90.35 L510.97,90.85 L511.57,91.35 L512.17,91.85 L512.77,92.35 L513.37,92.85 L513.97,93.35 L514.56,93.85 L515.15,94.35 L515.74,94.85 L516.32,95.35 L516.90,95.85 L517.47,96.35 L518.03,96.85 L518.59,97.35 L519.15,97.85 L519.71,98.35 L520.28,98.85 L520.84,99.35 L521.41,99.85 L521.98,100.35 L522.55,100.85 L523.13,101.36 L523.72,101.86 L524.30,102.36 L524.88,102.86 L525.47,103.36 L526.05,103.86 L526.64,104.36 L527.22,104.86 L527.81,105.36 L528.38,105.86 L528.96,106.36 L529.53,106.86 L530.08,107.36 L530.62,107.86 L531.15,108.36 L531.66,108.86 L532.14,109.36 L532.61,109.86 L533.06,110.36 L533.48,110.86 L533.89,111.36 L534.28,111.86 L534.64,112.36 L534.99,112.86 L535.31,113.36 L535.62,113.87 L535.90,114.37 L536.16,114.87 L536.40,115.37 L536.62,115.87 L536.81,116.37 L536.98,116.87 L537.12,117.37 L537.23,117.87 L537.31,118.37 L537.36,118.87 L537.38,119.37 L537.38,119.87 L537.34,120.37 L537.27,120.87 L537.18,121.37 L537.05,121.87 L536.89,122.37 L536.71,122.87 L536.48,123.37 L536.23,123.87 L535.94,124.37 L535.62,124.87 L535.28,125.37 L534.91,125.87 L534.52,126.38 L534.11,126.88 L533.68,127.38 L533.25,127.88 L532.80,128.38 L532.34,128.88 L531.87,129.38 L531.39,129.88 L530.91,130.38 L530.42,130.88 L529.92,131.38 L529.42,131.88 L528.92,132.38 L528.42,132.88 L527.91,133.38 L527.40,133.88 L526.89,134.38 L526.38,134.88 L525.87,135.38 L525.36,135.88 L524.85,136.38 L524.33,136.88 L523.82,137.38 L523.31,137.88 L522.80,138.38 L522.29,138.89 L521.78,139.39 L521.28,139.89 L520.78,140.39 L520.29,140.89 L519.81,141.39 L519.35,141.89 L518.89,142.39 L518.45,142.89 L518.02,143.39 L517.61,143.89 L517.20,144.39 L516.80,144.89 L516.40,145.39 L516.01,145.89 L515.61,146.39 L515.22,146.89 L514.82,147.39 L514.42,147.89 L514.02,148.39 L513.61,148.89 L513.21,149.39 L512.81,149.89 L512.41,150.39 L512.01,150.89 L511.62,151.40 L511.24,151.90 L510.86,152.40 L510.49,152.90 L510.13,153.40 L509.78,153.90 L509.43,154.40 L509.10,154.90 L508.77,155.40 L508.46,155.90 L508.15,156.40 L507.86,156.90 L507.58,157.40 L507.32,157.90 L507.06,158.40 L506.81,158.90 L506.56,159.40 L506.30,159.90 L506.05,160.40 L505.79,160.90 L505.51,161.40 L505.23,161.90 L504.94,162.40 L504.64,162.90 L504.33,163.40 L504.02,163.91 L503.71,164.41 L503.40,164.91 L503.09,165.41 L502.79,165.91 L502.50,166.41 L502.21,166.91 L501.93,167.41 L501.66,167.91 L501.40,168.41 L501.15,168.91 L500.92,169.41 L500.70,169.91 L500.50,170.41 L500.30,170.91 L500.13,171.41 L499.96,171.91 L499.81,172.41 L499.67,172.91 L499.54,173.41 L499.42,173.91 L499.31,174.41 L499.22,174.91 L499.13,175.41 L499.05,175.91 L498.98,176.42 L498.92,176.92 L498.86,177.42 L498.81,177.92 L498.76,178.42 L498.72,178.92 L498.67,179.42 L498.63,179.92 L498.59,180.42 L498.56,180.92 L498.53,181.42 L498.50,181.92 L498.47,182.42 L498.45,182.92 L498.43,183.42 L498.42,183.92 L498.40,184.42 L498.40,184.92 L498.39,185.42 L498.39,185.92 L498.39,186.42 L498.39,186.92 L498.39,187.42 L498.40,187.92 L498.40,188.42 L498.41,188.93 L498.41,189.43 L498.41,189.93 L498.42,190.43 L498.42,190.93 L498.41,191.43 L498.41,191.93 L498.40,192.43 L498.38,192.93 L498.36,193.43 L498.33,193.93 L498.30,194.43 L498.26,194.93 L498.22,195.43 L498.16,195.93 L498.10,196.43 L498.03,196.93 L497.94,197.43 L497.85,197.93 L497.75,198.43 L497.63,198.93 L497.50,199.43 L497.37,199.93 L497.22,200.43 L497.07,200.93 L496.91,201.44 L496.74,201.94 L496.56,202.44 L496.38,202.94 L496.20,203.44 L496.01,203.94 L495.81,204.44 L495.61,204.94 L495.41,205.44 L495.21,205.94 L495.00,206.44 L494.80,206.94 L494.59,207.44 L494.39,207.94 L494.19,208.44 L493.99,208.94 L493.79,209.44 L493.59,209.94 L493.40,210.44 L493.20,210.94 L493.00,211.44 L492.80,211.94 L492.60,212.44 L492.40,212.94 L492.19,213.44 L491.99,213.95 L491.79,214.45 L491.59,214.95 L491.39,215.45 L491.19,215.95 L490.99,216.45 L490.79,216.95 L490.59,217.45 L490.40,217.95 L490.20,218.45 L490.01,218.95 L489.83,219.45 L489.64,219.95 L489.46,220.45 L489.28,220.95 L489.11,221.45 L488.95,221.95 L488.78,222.45 L488.63,222.95 L488.48,223.45 L488.33,223.95 L488.19,224.45 L488.05,224.95 L487.92,225.45 L487.79,225.95 L487.67,226.45 L487.55,226.96 L487.43,227.46 L487.31,227.96 L487.19,228.46 L487.06,228.96 L486.93,229.46 L486.79,229.96 L486.65,230.46 L486.50,230.96 L486.34,231.46 L486.19,231.96 L486.03,232.46 L485.88,232.96 L485.73,233.46 L485.58,233.96 L485.44,234.46 L485.30,234.96 L485.17,235.46 L485.04,235.96 L484.92,236.46 L484.80,236.96 L484.68,237.46 L484.57,237.96 L484.46,238.46 L484.36,238.96 L484.27,239.47 L484.18,239.97 L484.09,240.47 L484.02,240.97 L483.95,241.47 L483.88,241.97 L483.83,242.47 L483.77,242.97 L483.72,243.47 L483.68,243.97 L483.64,244.47 L483.60,244.97 L483.56,245.47 L483.52,245.97 L483.49,246.47 L483.45,246.97 L483.42,247.47 L483.39,247.97 L483.36,248.47 L483.33,248.97 L483.30,249.47 L483.27,249.97 L483.25,250.47 L483.22,250.97 L483.20,251.47 L483.18,251.98 L483.17,252.48 L483.15,252.98 L483.14,253.48 L483.12,253.98 L483.11,254.48 L483.10,254.98 L483.09,255.48 L483.08,255.98 L483.08,256.48 L483.07,256.98 L483.06,257.48 L483.05,257.98 L483.04,258.48 L483.02,258.98 L483.01,259.48 L483.00,259.98 L482.98,260.48 L482.96,260.98 L482.94,261.48 L482.93,261.98 L482.91,262.48 L482.88,262.98 L482.86,263.48 L482.84,263.98 L482.82,264.49 L482.79,264.99 L482.77,265.49 L482.75,265.99 L482.72,266.49 L482.70,266.99 L482.67,267.49 L482.65,267.99 L482.62,268.49 L482.60,268.99 L482.57,269.49 L482.54,269.99 L482.52,270.49 L482.49,270.99 L482.47,271.49 L482.44,271.99 L482.41,272.49 L482.39,272.99 L482.36,273.49 L482.33,273.99 L482.30,274.49 L482.27,274.99 L482.24,275.49 L482.20,275.99 L482.17,276.49 L482.13,277.00 L482.09,277.50 L482.05,278.00 L482.01,278.50 L481.96,279.00 L481.91,279.50 L481.86,280.00 L481.80,280.50 L481.75,281.00 L481.70,281.50 L481.65,282.00 L481.61,282.50 L481.50,283.00 L477.90,283.00 L477.79,282.50 L477.75,282.00 L477.70,281.50 L477.65,281.00 L477.60,280.50 L477.54,280.00 L477.49,279.50 L477.44,279.00 L477.39,278.50 L477.35,278.00 L477.31,277.50 L477.27,277.00 L477.23,276.49 L477.20,275.99 L477.16,275.49 L477.13,274.99 L477.10,274.49 L477.07,273.99 L477.04,273.49 L477.01,272.99 L476.99,272.49 L476.96,271.99 L476.93,271.49 L476.91,270.99 L476.88,270.49 L476.86,269.99 L476.83,269.49 L476.80,268.99 L476.78,268.49 L476.75,267.99 L476.73,267.49 L476.70,266.99 L476.68,266.49 L476.65,265.99 L476.63,265.49 L476.61,264.99 L476.58,264.49 L476.56,263.98 L476.54,263.48 L476.52,262.98 L476.49,262.48 L476.47,261.98 L476.46,261.48 L476.44,260.98 L476.42,260.48 L476.40,259.98 L476.39,259.48 L476.38,258.98 L476.36,258.48 L476.35,257.98 L476.34,257.48 L476.33,256.98 L476.32,256.48 L476.32,255.98 L476.31,255.48 L476.30,254.98 L476.29,254.48 L476.28,253.98 L476.26,253.48 L476.25,252.98 L476.23,252.48 L476.22,251.98 L476.20,251.47 L476.18,250.97 L476.15,250.47 L476.13,249.97 L476.10,249.47 L476.07,248.97 L476.04,248.47 L476.01,247.97 L475.98,247.47 L475.95,246.97 L475.91,246.47 L475.88,245.97 L475.84,245.47 L475.80,244.97 L475.76,244.47 L475.72,243.97 L475.68,243.47 L475.63,242.97 L475.57,242.47 L475.52,241.97 L475.45,241.47 L475.38,240.97 L475.31,240.47 L475.22,239.97 L475.13,239.47 L475.04,238.96 L474.94,238.46 L474.83,237.96 L474.72,237.46 L474.60,236.96 L474.48,236.46 L474.36,235.96 L474.23,235.46 L474.10,234.96 L473.96,234.46 L473.82,233.96 L473.67,233.46 L473.52,232.96 L473.37,232.46 L473.21,231.96 L473.06,231.46 L472.90,230.96 L472.75,230.46 L472.61,229.96 L472.47,229.46 L472.34,228.96 L472.21,228.46 L472.09,227.96 L471.97,227.46 L471.85,226.96 L471.73,226.45 L471.61,225.95 L471.48,225.45 L471.35,224.95 L471.21,224.45 L471.07,223.95 L470.92,223.45 L470.77,222.95 L470.62,222.45 L470.45,221.95 L470.29,221.45 L470.12,220.95 L469.94,220.45 L469.76,219.95 L469.57,219.45 L469.39,218.95 L469.20,218.45 L469.00,217.95 L468.81,217.45 L468.61,216.95 L468.41,216.45 L468.21,215.95 L468.01,215.45 L467.81,214.95 L467.61,214.45 L467.41,213.95 L467.21,213.44 L467.00,212.94 L466.80,212.44 L466.60,211.94 L466.40,211.44 L466.20,210.94 L466.00,210.44 L465.81,209.94 L465.61,209.44 L465.41,208.94 L465.21,208.44 L465.01,207.94 L464.81,207.44 L464.60,206.94 L464.40,206.44 L464.19,205.94 L463.99,205.44 L463.79,204.94 L463.59,204.44 L463.39,203.94 L463.20,203.44 L463.02,202.94 L462.84,202.44 L462.66,201.94 L462.49,201.44 L462.33,200.93 L462.18,200.43 L462.03,199.93 L461.90,199.43 L461.77,198.93 L461.65,198.43 L461.55,197.93 L461.46,197.43 L461.37,196.93 L461.30,196.43 L461.24,195.93 L461.18,195.43 L461.14,194.93 L461.10,194.43 L461.07,193.93 L461.04,193.43 L461.02,192.93 L461.00,192.43 L460.99,191.93 L460.99,191.43 L460.98,190.93 L460.98,190.43 L460.99,189.93 L460.99,189.43 L460.99,188.93 L461.00,188.42 L461.00,187.92 L461.01,187.42 L461.01,186.92 L461.01,186.42 L461.01,185.92 L461.01,185.42 L461.00,184.92 L461.00,184.42 L460.98,183.92 L460.97,183.42 L460.95,182.92 L460.93,182.42 L460.90,181.92 L460.87,181.42 L460.84,180.92 L460.81,180.42 L460.77,179.92 L460.73,179.42 L460.68,178.92 L460.64,178.42 L460.59,177.92 L460.54,177.42 L460.48,176.92 L460.42,176.42 L460.35,175.91 L460.27,175.41 L460.18,174.91 L460.09,174.41 L459.98,173.91 L459.86,173.41 L459.73,172.91 L459.59,172.41 L459.44,171.91 L459.27,171.41 L459.10,170.91 L458.90,170.41 L458.70,169.91 L458.48,169.41 L458.25,168.91 L458.00,168.41 L457.74,167.91 L457.47,167.41 L457.19,166.91 L456.90,166.41 L456.61,165.91 L456.31,165.41 L456.00,164.91 L455.69,164.41 L455.38,163.91 L455.07,163.40 L454.76,162.90 L454.46,162.40 L454.17,161.90 L453.89,161.40 L453.61,160.90 L453.35,160.40 L453.10,159.90 L452.84,159.40 L452.59,158.90 L452.34,158.40 L452.08,157.90 L451.82,157.40 L451.54,156.90 L451.25,156.40 L450.94,155.90 L450.63,155.40 L450.30,154.90 L449.97,154.40 L449.62,153.90 L449.27,153.40 L448.91,152.90 L448.54,152.40 L448.16,151.90 L447.78,151.40 L447.39,150.89 L446.99,150.39 L446.59,149.89 L446.19,149.39 L445.79,148.89 L445.38,148.39 L444.98,147.89 L444.58,147.39 L444.18,146.89 L443.79,146.39 L443.39,145.89 L443.00,145.39 L442.60,144.89 L442.20,144.39 L441.79,143.89 L441.38,143.39 L440.95,142.89 L440.51,142.39 L440.05,141.89 L439.59,141.39 L439.11,140.89 L438.62,140.39 L438.12,139.89 L437.62,139.39 L437.11,138.89 L436.60,138.38 L436.09,137.88 L435.58,137.38 L435.07,136.88 L434.55,136.38 L434.04,135.88 L433.53,135.38 L433.02,134.88 L432.51,134.38 L432.00,133.88 L431.49,133.38 L430.98,132.88 L430.48,132.38 L429.98,131.88 L429.48,131.38 L428.98,130.88 L428.49,130.38 L428.01,129.88 L427.53,129.38 L427.06,128.88 L426.60,128.38 L426.15,127.88 L425.72,127.38 L425.29,126.88 L424.88,126.38 L424.49,125.87 L424.12,125.37 L423.78,124.87 L423.46,124.37 L423.17,123.87 L422.92,123.37 L422.69,122.87 L422.51,122.37 L422.35,121.87 L422.22,121.37 L422.13,120.87 L422.06,120.37 L422.02,119.87 L422.02,119.37 L422.04,118.87 L422.09,118.37 L422.17,117.87 L422.28,117.37 L422.42,116.87 L422.59,116.37 L422.78,115.87 L423.00,115.37 L423.24,114.87 L423.50,114.37 L423.78,113.87 L424.09,113.36 L424.41,112.86 L424.76,112.36 L425.12,111.86 L425.51,111.36 L425.92,110.86 L426.34,110.36 L426.79,109.86 L427.26,109.36 L427.74,108.86 L428.25,108.36 L428.78,107.86 L429.32,107.36 L429.87,106.86 L430.44,106.36 L431.02,105.86 L431.59,105.36 L432.18,104.86 L432.76,104.36 L433.35,103.86 L433.93,103.36 L434.52,102.86 L435.10,102.36 L435.68,101.86 L436.27,101.36 L436.85,100.85 L437.42,100.35 L437.99,99.85 L438.56,99.35 L439.12,98.85 L439.69,98.35 L440.25,97.85 L440.81,97.35 L441.37,96.85 L441.93,96.35 L442.50,95.85 L443.08,95.35 L443.66,94.85 L444.25,94.35 L444.84,93.85 L445.43,93.35 L446.03,92.85 L446.63,92.35 L447.23,91.85 L447.83,91.35 L448.43,90.85 L449.03,90.35 L449.62,89.85 L450.21,89.35 L450.79,88.85 L451.37,88.35 L451.93,87.84 L452.49,87.34 L453.04,86.84 L453.57,86.34 L454.09,85.84 L454.60,85.34 L455.10,84.84 L455.59,84.34 L456.07,83.84 L456.55,83.34 L457.02,82.84 L457.48,82.34 L457.93,81.84 L458.38,81.34 L458.81,80.84 L459.23,80.34 L459.64,79.84 L460.02,79.34 L460.39,78.84 L460.73,78.34 L461.05,77.84 L461.35,77.34 L461.63,76.84 L461.90,76.34 L462.15,75.84 L462.40,75.33 L462.63,74.83 L462.86,74.33 L463.08,73.83 L463.29,73.33 L463.51,72.83 L463.71,72.33 L463.92,71.83 L464.11,71.33 L464.31,70.83 L464.50,70.33 L464.69,69.83 L464.88,69.33 L465.06,68.83 L465.24,68.33 L465.41,67.83 L465.58,67.33 L465.74,66.83 L465.90,66.33 L466.06,65.83 L466.22,65.33 L466.37,64.83 L466.52,64.33 L466.68,63.83 L466.83,63.33 L466.98,62.82 L467.13,62.32 L467.29,61.82 L467.44,61.32 L467.60,60.82 L467.76,60.32 L467.92,59.82 L468.07,59.32 L468.23,58.82 L468.39,58.32 L468.55,57.82 L468.70,57.32 L468.85,56.82 L469.00,56.32 L469.15,55.82 L469.29,55.32 L469.43,54.82 L469.56,54.32 L469.69,53.82 L469.82,53.32 L469.95,52.82 L470.07,52.32 L470.19,51.82 L470.32,51.32 L470.44,50.82 L470.56,50.31 L470.68,49.81 L470.81,49.31 L470.93,48.81 L471.06,48.31 L471.20,47.81 L471.33,47.31 L471.47,46.81 L471.61,46.31 L471.75,45.81 L471.90,45.31 L472.04,44.81 L472.19,44.31 L472.34,43.81 L472.49,43.31 L472.64,42.81 L472.80,42.31 L472.95,41.81 L473.11,41.31 L473.26,40.81 L473.42,40.31 L473.58,39.81 L473.73,39.31 L473.89,38.81 L474.05,38.31 L474.21,37.80 L474.37,37.30 L474.53,36.80 L474.69,36.30 L474.85,35.80 L475.02,35.30 L475.18,34.80 L475.34,34.30 L475.50,33.80 L475.64,33.30 L475.78,32.80 L475.89,32.30 L476.20,31.80 Z" fill="#139a31"/>
<line x1="479.70" y1="31.80" x2="479.70" y2="106.90" stroke="#333333" stroke-width="1.4"/>
<line x1="479.70" y1="161.20" x2="479.70" y2="236.60" stroke="#333333" stroke-width="1.4"/>
<rect x="467.25" y="106.90" width="24.90" height="54.30" fill="#d9e7cc" stroke="#333333" stroke-width="1.55"/>
<line x1="467.25" y1="127.50" x2="492.15" y2="127.50" stroke="#333333" stroke-width="2.7"/>
<circle cx="479.70" cy="252.40" r="3.1" fill="#3a3a3a"/>
<circle cx="479.70" cy="261.00" r="3.1" fill="#3a3a3a"/>
<circle cx="479.70" cy="269.90" r="3.1" fill="#3a3a3a"/>
<circle cx="479.70" cy="282.90" r="3.1" fill="#474545"/>
<path d="M629.70,110.20 L630.45,110.70 L630.73,111.20 L631.05,111.70 L631.40,112.20 L631.78,112.70 L632.18,113.20 L632.58,113.70 L632.99,114.21 L633.40,114.71 L633.81,115.21 L634.23,115.71 L634.64,116.21 L635.06,116.71 L635.48,117.21 L635.89,117.71 L636.31,118.21 L636.73,118.71 L637.15,119.21 L637.56,119.71 L637.98,120.21 L638.40,120.71 L638.81,121.21 L639.23,121.72 L639.64,122.22 L640.06,122.72 L640.47,123.22 L640.88,123.72 L641.29,124.22 L641.70,124.72 L642.10,125.22 L642.49,125.72 L642.88,126.22 L643.27,126.72 L643.64,127.22 L644.02,127.72 L644.38,128.22 L644.74,128.72 L645.09,129.23 L645.43,129.73 L645.76,130.23 L646.08,130.73 L646.38,131.23 L646.67,131.73 L646.95,132.23 L647.21,132.73 L647.46,133.23 L647.69,133.73 L647.91,134.23 L648.12,134.73 L648.32,135.23 L648.50,135.73 L648.68,136.24 L648.85,136.74 L649.01,137.24 L649.16,137.74 L649.30,138.24 L649.43,138.74 L649.55,139.24 L649.66,139.74 L649.77,140.24 L649.86,140.74 L649.95,141.24 L650.02,141.74 L650.09,142.24 L650.15,142.74 L650.19,143.24 L650.23,143.75 L650.26,144.25 L650.28,144.75 L650.29,145.25 L650.29,145.75 L650.28,146.25 L650.26,146.75 L650.23,147.25 L650.19,147.75 L650.14,148.25 L650.07,148.75 L650.00,149.25 L649.92,149.75 L649.83,150.25 L649.73,150.75 L649.63,151.26 L649.52,151.76 L649.41,152.26 L649.29,152.76 L649.18,153.26 L649.06,153.76 L648.94,154.26 L648.82,154.76 L648.70,155.26 L648.58,155.76 L648.46,156.26 L648.34,156.76 L648.22,157.26 L648.10,157.76 L647.98,158.26 L647.87,158.77 L647.75,159.27 L647.63,159.77 L647.52,160.27 L647.41,160.77 L647.30,161.27 L647.19,161.77 L647.07,162.27 L646.96,162.77 L646.85,163.27 L646.73,163.77 L646.62,164.27 L646.50,164.77 L646.38,165.27 L646.26,165.77 L646.14,166.28 L646.01,166.78 L645.89,167.28 L645.77,167.78 L645.65,168.28 L645.53,168.78 L645.41,169.28 L645.30,169.78 L645.18,170.28 L645.07,170.78 L644.96,171.28 L644.86,171.78 L644.75,172.28 L644.65,172.78 L644.55,173.28 L644.46,173.79 L644.36,174.29 L644.27,174.79 L644.18,175.29 L644.09,175.79 L644.01,176.29 L643.93,176.79 L643.85,177.29 L643.77,177.79 L643.70,178.29 L643.62,178.79 L643.55,179.29 L643.48,179.79 L643.41,180.29 L643.35,180.79 L643.28,181.30 L643.22,181.80 L643.15,182.30 L643.09,182.80 L643.02,183.30 L642.96,183.80 L642.89,184.30 L642.82,184.80 L642.74,185.30 L642.66,185.80 L642.57,186.30 L642.48,186.80 L642.38,187.30 L642.29,187.80 L642.18,188.31 L642.08,188.81 L641.97,189.31 L641.87,189.81 L641.76,190.31 L641.65,190.81 L641.54,191.31 L641.43,191.81 L641.32,192.31 L641.21,192.81 L641.09,193.31 L640.98,193.81 L640.87,194.31 L640.75,194.81 L640.64,195.31 L640.52,195.82 L640.41,196.32 L640.29,196.82 L640.17,197.32 L640.05,197.82 L639.94,198.32 L639.82,198.82 L639.70,199.32 L639.58,199.82 L639.45,200.32 L639.33,200.82 L639.20,201.32 L639.07,201.82 L638.95,202.32 L638.81,202.82 L638.68,203.33 L638.55,203.83 L638.41,204.33 L638.28,204.83 L638.14,205.33 L638.01,205.83 L637.87,206.33 L637.73,206.83 L637.59,207.33 L637.46,207.83 L637.32,208.33 L637.18,208.83 L637.04,209.33 L636.90,209.83 L636.76,210.33 L636.62,210.84 L636.48,211.34 L636.33,211.84 L636.19,212.34 L636.05,212.84 L635.90,213.34 L635.76,213.84 L635.61,214.34 L635.46,214.84 L635.31,215.34 L635.16,215.84 L635.01,216.34 L634.86,216.84 L634.70,217.34 L634.55,217.84 L634.39,218.35 L634.24,218.85 L634.08,219.35 L633.92,219.85 L633.77,220.35 L633.61,220.85 L633.45,221.35 L633.30,221.85 L633.15,222.35 L632.99,222.85 L632.84,223.35 L632.70,223.85 L632.55,224.35 L632.41,224.85 L632.27,225.35 L632.13,225.86 L631.99,226.36 L631.86,226.86 L631.73,227.36 L631.60,227.86 L631.47,228.36 L631.35,228.86 L631.22,229.36 L631.10,229.86 L630.98,230.36 L630.86,230.86 L630.75,231.36 L630.63,231.86 L630.51,232.36 L630.39,232.86 L630.28,233.37 L630.16,233.87 L630.04,234.37 L629.92,234.87 L629.80,235.37 L629.67,235.87 L629.55,236.37 L629.43,236.87 L629.30,237.37 L629.17,237.87 L629.04,238.37 L628.91,238.87 L628.78,239.37 L628.64,239.87 L628.51,240.38 L628.37,240.88 L628.24,241.38 L628.10,241.88 L627.96,242.38 L627.83,242.88 L627.69,243.38 L627.55,243.88 L627.41,244.38 L627.28,244.88 L627.14,245.38 L627.00,245.88 L626.86,246.38 L626.72,246.88 L626.59,247.38 L626.45,247.89 L626.31,248.39 L626.18,248.89 L626.04,249.39 L625.91,249.89 L625.77,250.39 L625.64,250.89 L625.50,251.39 L625.37,251.89 L625.24,252.39 L625.10,252.89 L624.97,253.39 L624.84,253.89 L624.70,254.39 L624.57,254.89 L624.44,255.40 L624.30,255.90 L624.18,256.40 L624.05,256.90 L623.94,257.40 L623.83,257.90 L623.74,258.40 L623.50,258.90 L592.30,258.90 L592.06,258.40 L591.97,257.90 L591.86,257.40 L591.75,256.90 L591.62,256.40 L591.50,255.90 L591.36,255.40 L591.23,254.89 L591.10,254.39 L590.96,253.89 L590.83,253.39 L590.70,252.89 L590.56,252.39 L590.43,251.89 L590.30,251.39 L590.16,250.89 L590.03,250.39 L589.89,249.89 L589.76,249.39 L589.62,248.89 L589.49,248.39 L589.35,247.89 L589.21,247.38 L589.08,246.88 L588.94,246.38 L588.80,245.88 L588.66,245.38 L588.52,244.88 L588.39,244.38 L588.25,243.88 L588.11,243.38 L587.97,242.88 L587.84,242.38 L587.70,241.88 L587.56,241.38 L587.43,240.88 L587.29,240.38 L587.16,239.87 L587.02,239.37 L586.89,238.87 L586.76,238.37 L586.63,237.87 L586.50,237.37 L586.37,236.87 L586.25,236.37 L586.13,235.87 L586.00,235.37 L585.88,234.87 L585.76,234.37 L585.64,233.87 L585.52,233.37 L585.41,232.86 L585.29,232.36 L585.17,231.86 L585.05,231.36 L584.94,230.86 L584.82,230.36 L584.70,229.86 L584.58,229.36 L584.45,228.86 L584.33,228.36 L584.20,227.86 L584.07,227.36 L583.94,226.86 L583.81,226.36 L583.67,225.86 L583.53,225.35 L583.39,224.85 L583.25,224.35 L583.10,223.85 L582.96,223.35 L582.81,222.85 L582.65,222.35 L582.50,221.85 L582.35,221.35 L582.19,220.85 L582.03,220.35 L581.88,219.85 L581.72,219.35 L581.56,218.85 L581.41,218.35 L581.25,217.84 L581.10,217.34 L580.94,216.84 L580.79,216.34 L580.64,215.84 L580.49,215.34 L580.34,214.84 L580.19,214.34 L580.04,213.84 L579.90,213.34 L579.75,212.84 L579.61,212.34 L579.47,211.84 L579.32,211.34 L579.18,210.84 L579.04,210.33 L578.90,209.83 L578.76,209.33 L578.62,208.83 L578.48,208.33 L578.34,207.83 L578.21,207.33 L578.07,206.83 L577.93,206.33 L577.79,205.83 L577.66,205.33 L577.52,204.83 L577.39,204.33 L577.25,203.83 L577.12,203.33 L576.99,202.82 L576.85,202.32 L576.73,201.82 L576.60,201.32 L576.47,200.82 L576.35,200.32 L576.22,199.82 L576.10,199.32 L575.98,198.82 L575.86,198.32 L575.75,197.82 L575.63,197.32 L575.51,196.82 L575.39,196.32 L575.28,195.82 L575.16,195.31 L575.05,194.81 L574.93,194.31 L574.82,193.81 L574.71,193.31 L574.59,192.81 L574.48,192.31 L574.37,191.81 L574.26,191.31 L574.15,190.81 L574.04,190.31 L573.93,189.81 L573.83,189.31 L573.72,188.81 L573.62,188.31 L573.51,187.80 L573.42,187.30 L573.32,186.80 L573.23,186.30 L573.14,185.80 L573.06,185.30 L572.98,184.80 L572.91,184.30 L572.84,183.80 L572.78,183.30 L572.71,182.80 L572.65,182.30 L572.58,181.80 L572.52,181.30 L572.45,180.79 L572.39,180.29 L572.32,179.79 L572.25,179.29 L572.18,178.79 L572.10,178.29 L572.03,177.79 L571.95,177.29 L571.87,176.79 L571.79,176.29 L571.71,175.79 L571.62,175.29 L571.53,174.79 L571.44,174.29 L571.34,173.79 L571.25,173.28 L571.15,172.78 L571.05,172.28 L570.94,171.78 L570.84,171.28 L570.73,170.78 L570.62,170.28 L570.50,169.78 L570.39,169.28 L570.27,168.78 L570.15,168.28 L570.03,167.78 L569.91,167.28 L569.79,166.78 L569.66,166.28 L569.54,165.77 L569.42,165.27 L569.30,164.77 L569.18,164.27 L569.07,163.77 L568.95,163.27 L568.84,162.77 L568.73,162.27 L568.61,161.77 L568.50,161.27 L568.39,160.77 L568.28,160.27 L568.17,159.77 L568.05,159.27 L567.93,158.77 L567.82,158.26 L567.70,157.76 L567.58,157.26 L567.46,156.76 L567.34,156.26 L567.22,155.76 L567.10,155.26 L566.98,154.76 L566.86,154.26 L566.74,153.76 L566.62,153.26 L566.51,152.76 L566.39,152.26 L566.28,151.76 L566.17,151.26 L566.07,150.75 L565.97,150.25 L565.88,149.75 L565.80,149.25 L565.73,148.75 L565.66,148.25 L565.61,147.75 L565.57,147.25 L565.54,146.75 L565.52,146.25 L565.51,145.75 L565.51,145.25 L565.52,144.75 L565.54,144.25 L565.57,143.75 L565.61,143.24 L565.65,142.74 L565.71,142.24 L565.78,141.74 L565.85,141.24 L565.94,140.74 L566.03,140.24 L566.14,139.74 L566.25,139.24 L566.37,138.74 L566.50,138.24 L566.64,137.74 L566.79,137.24 L566.95,136.74 L567.12,136.24 L567.30,135.73 L567.48,135.23 L567.68,134.73 L567.89,134.23 L568.11,133.73 L568.34,133.23 L568.59,132.73 L568.85,132.23 L569.13,131.73 L569.42,131.23 L569.72,130.73 L570.04,130.23 L570.37,129.73 L570.71,129.23 L571.06,128.72 L571.42,128.22 L571.78,127.72 L572.16,127.22 L572.53,126.72 L572.92,126.22 L573.31,125.72 L573.70,125.22 L574.10,124.72 L574.51,124.22 L574.92,123.72 L575.33,123.22 L575.74,122.72 L576.16,122.22 L576.57,121.72 L576.99,121.21 L577.40,120.71 L577.82,120.21 L578.24,119.71 L578.65,119.21 L579.07,118.71 L579.49,118.21 L579.91,117.71 L580.32,117.21 L580.74,116.71 L581.16,116.21 L581.57,115.71 L581.99,115.21 L582.40,114.71 L582.81,114.21 L583.22,113.70 L583.62,113.20 L584.02,112.70 L584.40,112.20 L584.75,111.70 L585.07,111.20 L585.35,110.70 L586.10,110.20 Z" fill="#c880d5"/>
<line x1="607.90" y1="110.20" x2="607.90" y2="141.70" stroke="#333333" stroke-width="1.4"/>
<line x1="607.90" y1="203.30" x2="607.90" y2="258.90" stroke="#333333" stroke-width="1.4"/>
<rect x="595.45" y="141.70" width="24.90" height="61.60" fill="#f3e0f9" stroke="#333333" stroke-width="1.55"/>
<line x1="595.45" y1="172.40" x2="620.35" y2="172.40" stroke="#333333" stroke-width="2.7"/>
<line x1="479.70" y1="296" x2="479.70" y2="300.2" stroke="#333" stroke-width="1.5"/>
<text x="479.70" y="312.3" font-size="12.25" fill="#4d4d4d" text-anchor="middle">Probands without CSVs</text>
<text x="479.70" y="325.3" font-size="12.25" fill="#4d4d4d" text-anchor="middle">(n=139)</text>
<line x1="607.90" y1="296" x2="607.90" y2="300.2" stroke="#333" stroke-width="1.5"/>
<text x="607.90" y="312.3" font-size="12.25" fill="#4d4d4d" text-anchor="middle">Probands with CSVs</text>
<text x="607.90" y="325.3" font-size="12.25" fill="#4d4d4d" text-anchor="middle">(n=22)</text>
<line x1="479.70" y1="20.5" x2="607.90" y2="20.5" stroke="#000" stroke-width="1.3"/>
<text x="550.4" y="15.2" font-size="18.3" fill="#000" text-anchor="middle"><tspan font-style="italic">P</tspan>=2.2 &#215; 10<tspan font-size="11.5" dx="0.6" dy="-6">-4</tspan></text>
<rect x="61.50" y="383.40" width="239.30" height="300.90" fill="none" stroke="#1a1a1a" stroke-width="1.1"/>
<line x1="54.30" y1="673.00" x2="61.50" y2="673.00" stroke="#1a1a1a" stroke-width="1.0"/>
<text transform="translate(45.00,673.00) rotate(-90)" font-size="12" fill="#1a1a1a" text-anchor="middle">40</text>
<line x1="54.30" y1="624.54" x2="61.50" y2="624.54" stroke="#1a1a1a" stroke-width="1.0"/>
<text transform="translate(45.00,624.54) rotate(-90)" font-size="12" fill="#1a1a1a" text-anchor="middle">60</text>
<line x1="54.30" y1="576.08" x2="61.50" y2="576.08" stroke="#1a1a1a" stroke-width="1.0"/>
<text transform="translate(45.00,576.08) rotate(-90)" font-size="12" fill="#1a1a1a" text-anchor="middle">80</text>
<line x1="54.30" y1="527.62" x2="61.50" y2="527.62" stroke="#1a1a1a" stroke-width="1.0"/>
<text transform="translate(45.00,527.62) rotate(-90)" font-size="12" fill="#1a1a1a" text-anchor="middle">100</text>
<line x1="54.30" y1="479.16" x2="61.50" y2="479.16" stroke="#1a1a1a" stroke-width="1.0"/>
<text transform="translate(45.00,479.16) rotate(-90)" font-size="12" fill="#1a1a1a" text-anchor="middle">120</text>
<line x1="54.30" y1="430.70" x2="61.50" y2="430.70" stroke="#1a1a1a" stroke-width="1.0"/>
<text transform="translate(45.00,430.70) rotate(-90)" font-size="12" fill="#1a1a1a" text-anchor="middle">140</text>
<line x1="68.50" y1="684.30" x2="68.50" y2="691.50" stroke="#1a1a1a" stroke-width="1.05"/>
<text x="68.50" y="710.60" font-size="12" fill="#1a1a1a" text-anchor="middle">0.0</text>
<line x1="113.18" y1="684.30" x2="113.18" y2="691.50" stroke="#1a1a1a" stroke-width="1.05"/>
<text x="113.18" y="710.60" font-size="12" fill="#1a1a1a" text-anchor="middle">0.2</text>
<line x1="157.86" y1="684.30" x2="157.86" y2="691.50" stroke="#1a1a1a" stroke-width="1.05"/>
<text x="157.86" y="710.60" font-size="12" fill="#1a1a1a" text-anchor="middle">0.4</text>
<line x1="202.54" y1="684.30" x2="202.54" y2="691.50" stroke="#1a1a1a" stroke-width="1.05"/>
<text x="202.54" y="710.60" font-size="12" fill="#1a1a1a" text-anchor="middle">0.6</text>
<line x1="247.22" y1="684.30" x2="247.22" y2="691.50" stroke="#1a1a1a" stroke-width="1.05"/>
<text x="247.22" y="710.60" font-size="12" fill="#1a1a1a" text-anchor="middle">0.8</text>
<line x1="291.90" y1="684.30" x2="291.90" y2="691.50" stroke="#1a1a1a" stroke-width="1.05"/>
<text x="291.90" y="710.60" font-size="12" fill="#1a1a1a" text-anchor="middle">1.0</text>
<text x="181.00" y="724.70" font-size="12" fill="#1a1a1a" text-anchor="middle">GRS percentile</text>
<text x="185.00" y="739.00" font-size="12" fill="#1a1a1a" text-anchor="middle">(n=127)</text>
<text transform="translate(26.80,530.30) rotate(-90)" font-size="12" fill="#1a1a1a" text-anchor="middle">IQ</text>
<g fill="none" stroke="#0a0a0a" stroke-width="1.12">
<circle cx="114.50" cy="394.36" r="2.65"/>
<circle cx="167.20" cy="394.36" r="2.65"/>
<circle cx="135.50" cy="418.58" r="2.65"/>
<circle cx="119.70" cy="428.28" r="2.65"/>
<circle cx="151.30" cy="433.12" r="2.65"/>
<circle cx="74.00" cy="459.78" r="2.65"/>
<circle cx="93.30" cy="462.20" r="2.65"/>
<circle cx="169.00" cy="459.78" r="2.65"/>
<circle cx="163.50" cy="464.62" r="2.65"/>
<circle cx="88.00" cy="471.89" r="2.65"/>
<circle cx="89.80" cy="471.89" r="2.65"/>
<circle cx="126.60" cy="471.89" r="2.65"/>
<circle cx="116.10" cy="476.74" r="2.65"/>
<circle cx="117.80" cy="476.74" r="2.65"/>
<circle cx="130.10" cy="476.74" r="2.65"/>
<circle cx="149.50" cy="474.31" r="2.65"/>
<circle cx="265.50" cy="423.43" r="2.65"/>
<circle cx="251.50" cy="428.28" r="2.65"/>
<circle cx="276.00" cy="428.28" r="2.65"/>
<circle cx="235.70" cy="433.12" r="2.65"/>
<circle cx="207.70" cy="437.97" r="2.65"/>
<circle cx="244.50" cy="442.81" r="2.65"/>
<circle cx="184.90" cy="450.08" r="2.65"/>
<circle cx="228.70" cy="452.51" r="2.65"/>
<circle cx="195.40" cy="457.35" r="2.65"/>
<circle cx="204.20" cy="464.62" r="2.65"/>
<circle cx="214.70" cy="469.47" r="2.65"/>
<circle cx="239.20" cy="471.89" r="2.65"/>
<circle cx="263.70" cy="471.89" r="2.65"/>
<circle cx="267.60" cy="469.47" r="2.65"/>
<circle cx="191.90" cy="476.74" r="2.65"/>
<circle cx="190.20" cy="479.16" r="2.65"/>
<circle cx="75.80" cy="481.58" r="2.65"/>
<circle cx="82.80" cy="484.01" r="2.65"/>
<circle cx="86.60" cy="484.01" r="2.65"/>
<circle cx="100.30" cy="481.58" r="2.65"/>
<circle cx="124.80" cy="486.43" r="2.65"/>
<circle cx="142.30" cy="488.85" r="2.65"/>
<circle cx="161.60" cy="481.58" r="2.65"/>
<circle cx="175.60" cy="486.43" r="2.65"/>
<circle cx="180.00" cy="491.27" r="2.65"/>
<circle cx="71.90" cy="500.97" r="2.65"/>
<circle cx="84.50" cy="500.97" r="2.65"/>
<circle cx="109.10" cy="500.97" r="2.65"/>
<circle cx="131.80" cy="505.81" r="2.65"/>
<circle cx="137.10" cy="505.81" r="2.65"/>
<circle cx="158.50" cy="500.97" r="2.65"/>
<circle cx="159.90" cy="508.24" r="2.65"/>
<circle cx="173.90" cy="500.97" r="2.65"/>
<circle cx="181.00" cy="500.97" r="2.65"/>
<circle cx="81.00" cy="510.66" r="2.65"/>
<circle cx="98.50" cy="510.66" r="2.65"/>
<circle cx="103.80" cy="508.24" r="2.65"/>
<circle cx="95.00" cy="515.50" r="2.65"/>
<circle cx="91.50" cy="522.77" r="2.65"/>
<circle cx="112.60" cy="520.35" r="2.65"/>
<circle cx="144.10" cy="520.35" r="2.65"/>
<circle cx="145.80" cy="517.93" r="2.65"/>
<circle cx="147.90" cy="515.50" r="2.65"/>
<circle cx="156.40" cy="515.50" r="2.65"/>
<circle cx="107.30" cy="532.47" r="2.65"/>
<circle cx="77.50" cy="537.31" r="2.65"/>
<circle cx="105.60" cy="537.31" r="2.65"/>
<circle cx="123.10" cy="537.31" r="2.65"/>
<circle cx="139.20" cy="539.74" r="2.65"/>
<circle cx="140.90" cy="542.16" r="2.65"/>
<circle cx="153.20" cy="544.58" r="2.65"/>
<circle cx="177.40" cy="534.89" r="2.65"/>
<circle cx="121.30" cy="563.97" r="2.65"/>
<circle cx="133.90" cy="566.39" r="2.65"/>
<circle cx="197.20" cy="484.01" r="2.65"/>
<circle cx="202.40" cy="484.01" r="2.65"/>
<circle cx="221.70" cy="481.58" r="2.65"/>
<circle cx="227.00" cy="486.43" r="2.65"/>
<circle cx="248.00" cy="481.58" r="2.65"/>
<circle cx="258.50" cy="486.43" r="2.65"/>
<circle cx="277.80" cy="481.58" r="2.65"/>
<circle cx="269.00" cy="491.27" r="2.65"/>
<circle cx="200.70" cy="493.70" r="2.65"/>
<circle cx="209.40" cy="491.27" r="2.65"/>
<circle cx="216.40" cy="493.70" r="2.65"/>
<circle cx="211.20" cy="498.54" r="2.65"/>
<circle cx="223.40" cy="500.97" r="2.65"/>
<circle cx="230.50" cy="496.12" r="2.65"/>
<circle cx="234.00" cy="508.24" r="2.65"/>
<circle cx="220.00" cy="515.50" r="2.65"/>
<circle cx="246.20" cy="520.35" r="2.65"/>
<circle cx="256.70" cy="505.81" r="2.65"/>
<circle cx="260.60" cy="500.97" r="2.65"/>
<circle cx="279.50" cy="503.39" r="2.65"/>
<circle cx="283.40" cy="510.66" r="2.65"/>
<circle cx="292.10" cy="505.81" r="2.65"/>
<circle cx="272.50" cy="515.50" r="2.65"/>
<circle cx="225.20" cy="530.04" r="2.65"/>
<circle cx="242.70" cy="530.04" r="2.65"/>
<circle cx="255.00" cy="532.47" r="2.65"/>
<circle cx="198.90" cy="539.74" r="2.65"/>
<circle cx="183.20" cy="547.00" r="2.65"/>
<circle cx="212.90" cy="549.43" r="2.65"/>
<circle cx="218.20" cy="559.12" r="2.65"/>
<circle cx="232.20" cy="561.54" r="2.65"/>
<circle cx="186.70" cy="566.39" r="2.65"/>
<circle cx="205.90" cy="568.81" r="2.65"/>
<circle cx="290.00" cy="542.16" r="2.65"/>
<circle cx="286.90" cy="549.43" r="2.65"/>
<circle cx="288.60" cy="561.54" r="2.65"/>
<circle cx="128.40" cy="571.23" r="2.65"/>
<circle cx="79.30" cy="590.62" r="2.65"/>
<circle cx="70.50" cy="602.73" r="2.65"/>
<circle cx="96.80" cy="593.04" r="2.65"/>
<circle cx="110.90" cy="602.73" r="2.65"/>
<circle cx="102.10" cy="619.69" r="2.65"/>
<circle cx="172.30" cy="583.35" r="2.65"/>
<circle cx="165.30" cy="597.89" r="2.65"/>
<circle cx="154.70" cy="612.42" r="2.65"/>
<circle cx="170.50" cy="673.00" r="2.65"/>
<circle cx="274.40" cy="571.23" r="2.65"/>
<circle cx="193.30" cy="580.93" r="2.65"/>
<circle cx="237.20" cy="580.93" r="2.65"/>
<circle cx="241.10" cy="583.35" r="2.65"/>
<circle cx="253.30" cy="585.77" r="2.65"/>
<circle cx="249.80" cy="590.62" r="2.65"/>
<circle cx="261.80" cy="578.50" r="2.65"/>
<circle cx="270.50" cy="578.50" r="2.65"/>
<circle cx="188.10" cy="622.12" r="2.65"/>
<circle cx="281.40" cy="626.96" r="2.65"/>
<circle cx="284.90" cy="646.35" r="2.65"/>
</g>
<line x1="61.50" y1="511.70" x2="300.80" y2="525.40" stroke="#1a1a1a" stroke-width="1.0"/>
<text x="183.80" y="359.50" font-size="14.6" font-weight="bold" letter-spacing="0.22" fill="#000" text-anchor="middle">rho=&#8211;0.042, <tspan font-style="italic">P</tspan>=0.64</text>
<text x="-0.70" y="356.70" font-size="19.5" font-weight="bold" fill="#000">c</text>
<rect x="408.50" y="381.80" width="238.00" height="299.50" fill="none" stroke="#1a1a1a" stroke-width="1.1"/>
<line x1="401.30" y1="670.35" x2="408.50" y2="670.35" stroke="#1a1a1a" stroke-width="1.0"/>
<text transform="translate(391.10,670.35) rotate(-90)" font-size="12" fill="#1a1a1a" text-anchor="middle">40</text>
<line x1="401.30" y1="622.08" x2="408.50" y2="622.08" stroke="#1a1a1a" stroke-width="1.0"/>
<text transform="translate(391.10,622.08) rotate(-90)" font-size="12" fill="#1a1a1a" text-anchor="middle">60</text>
<line x1="401.30" y1="573.81" x2="408.50" y2="573.81" stroke="#1a1a1a" stroke-width="1.0"/>
<text transform="translate(391.10,573.81) rotate(-90)" font-size="12" fill="#1a1a1a" text-anchor="middle">80</text>
<line x1="401.30" y1="525.54" x2="408.50" y2="525.54" stroke="#1a1a1a" stroke-width="1.0"/>
<text transform="translate(391.10,525.54) rotate(-90)" font-size="12" fill="#1a1a1a" text-anchor="middle">100</text>
<line x1="401.30" y1="477.27" x2="408.50" y2="477.27" stroke="#1a1a1a" stroke-width="1.0"/>
<text transform="translate(391.10,477.27) rotate(-90)" font-size="12" fill="#1a1a1a" text-anchor="middle">120</text>
<line x1="401.30" y1="429.00" x2="408.50" y2="429.00" stroke="#1a1a1a" stroke-width="1.0"/>
<text transform="translate(391.10,429.00) rotate(-90)" font-size="12" fill="#1a1a1a" text-anchor="middle">140</text>
<line x1="415.00" y1="681.30" x2="415.00" y2="688.50" stroke="#1a1a1a" stroke-width="1.05"/>
<text x="415.00" y="706.90" font-size="12" fill="#1a1a1a" text-anchor="middle">0.0</text>
<line x1="459.66" y1="681.30" x2="459.66" y2="688.50" stroke="#1a1a1a" stroke-width="1.05"/>
<text x="459.66" y="706.90" font-size="12" fill="#1a1a1a" text-anchor="middle">0.2</text>
<line x1="504.32" y1="681.30" x2="504.32" y2="688.50" stroke="#1a1a1a" stroke-width="1.05"/>
<text x="504.32" y="706.90" font-size="12" fill="#1a1a1a" text-anchor="middle">0.4</text>
<line x1="548.98" y1="681.30" x2="548.98" y2="688.50" stroke="#1a1a1a" stroke-width="1.05"/>
<text x="548.98" y="706.90" font-size="12" fill="#1a1a1a" text-anchor="middle">0.6</text>
<line x1="593.64" y1="681.30" x2="593.64" y2="688.50" stroke="#1a1a1a" stroke-width="1.05"/>
<text x="593.64" y="706.90" font-size="12" fill="#1a1a1a" text-anchor="middle">0.8</text>
<line x1="638.30" y1="681.30" x2="638.30" y2="688.50" stroke="#1a1a1a" stroke-width="1.05"/>
<text x="638.30" y="706.90" font-size="12" fill="#1a1a1a" text-anchor="middle">1.0</text>
<text x="527.50" y="721.40" font-size="12" fill="#1a1a1a" text-anchor="middle">PRS percentile</text>
<text x="531.60" y="735.80" font-size="12" fill="#1a1a1a" text-anchor="middle">(n=111)</text>
<text transform="translate(374.00,530.80) rotate(-90)" font-size="12" fill="#1a1a1a" text-anchor="middle">IQ</text>
<g fill="none" stroke="#0a0a0a" stroke-width="1.12">
<circle cx="451.10" cy="392.80" r="2.65"/>
<circle cx="425.10" cy="426.59" r="2.65"/>
<circle cx="439.20" cy="436.24" r="2.65"/>
<circle cx="473.30" cy="431.41" r="2.65"/>
<circle cx="515.00" cy="416.93" r="2.65"/>
<circle cx="433.00" cy="455.55" r="2.65"/>
<circle cx="459.00" cy="450.72" r="2.65"/>
<circle cx="467.20" cy="448.31" r="2.65"/>
<circle cx="493.10" cy="460.38" r="2.65"/>
<circle cx="443.20" cy="470.03" r="2.65"/>
<circle cx="449.30" cy="467.62" r="2.65"/>
<circle cx="479.30" cy="472.44" r="2.65"/>
<circle cx="495.20" cy="470.03" r="2.65"/>
<circle cx="501.00" cy="470.03" r="2.65"/>
<circle cx="505.40" cy="470.03" r="2.65"/>
<circle cx="537.30" cy="392.80" r="2.65"/>
<circle cx="527.60" cy="426.59" r="2.65"/>
<circle cx="547.40" cy="441.07" r="2.65"/>
<circle cx="565.30" cy="431.41" r="2.65"/>
<circle cx="577.20" cy="426.59" r="2.65"/>
<circle cx="623.50" cy="421.76" r="2.65"/>
<circle cx="595.40" cy="457.96" r="2.65"/>
<circle cx="609.40" cy="462.79" r="2.65"/>
<circle cx="627.50" cy="467.62" r="2.65"/>
<circle cx="635.40" cy="462.79" r="2.65"/>
<circle cx="557.40" cy="470.03" r="2.65"/>
<circle cx="553.40" cy="474.86" r="2.65"/>
<circle cx="563.20" cy="474.86" r="2.65"/>
<circle cx="575.50" cy="474.86" r="2.65"/>
<circle cx="416.90" cy="484.51" r="2.65"/>
<circle cx="423.00" cy="489.34" r="2.65"/>
<circle cx="437.10" cy="479.68" r="2.65"/>
<circle cx="447.00" cy="486.92" r="2.65"/>
<circle cx="457.20" cy="482.10" r="2.65"/>
<circle cx="471.20" cy="489.34" r="2.65"/>
<circle cx="480.70" cy="479.68" r="2.65"/>
<circle cx="483.00" cy="479.68" r="2.65"/>
<circle cx="485.10" cy="484.51" r="2.65"/>
<circle cx="513.30" cy="484.51" r="2.65"/>
<circle cx="522.70" cy="489.34" r="2.65"/>
<circle cx="429.20" cy="498.99" r="2.65"/>
<circle cx="455.10" cy="503.82" r="2.65"/>
<circle cx="445.00" cy="508.65" r="2.65"/>
<circle cx="461.10" cy="508.65" r="2.65"/>
<circle cx="475.10" cy="506.23" r="2.65"/>
<circle cx="491.20" cy="503.82" r="2.65"/>
<circle cx="507.10" cy="498.99" r="2.65"/>
<circle cx="511.20" cy="503.82" r="2.65"/>
<circle cx="435.10" cy="513.47" r="2.65"/>
<circle cx="427.10" cy="518.30" r="2.65"/>
<circle cx="453.00" cy="515.89" r="2.65"/>
<circle cx="469.10" cy="518.30" r="2.65"/>
<circle cx="517.10" cy="513.47" r="2.65"/>
<circle cx="521.50" cy="513.47" r="2.65"/>
<circle cx="421.10" cy="527.95" r="2.65"/>
<circle cx="465.10" cy="527.95" r="2.65"/>
<circle cx="489.10" cy="535.19" r="2.65"/>
<circle cx="499.30" cy="535.19" r="2.65"/>
<circle cx="503.50" cy="535.19" r="2.65"/>
<circle cx="519.20" cy="537.61" r="2.65"/>
<circle cx="419.00" cy="559.33" r="2.65"/>
<circle cx="497.20" cy="556.92" r="2.65"/>
<circle cx="463.20" cy="564.16" r="2.65"/>
<circle cx="477.00" cy="564.16" r="2.65"/>
<circle cx="535.50" cy="482.10" r="2.65"/>
<circle cx="543.20" cy="479.68" r="2.65"/>
<circle cx="615.40" cy="479.68" r="2.65"/>
<circle cx="637.50" cy="479.68" r="2.65"/>
<circle cx="569.50" cy="491.75" r="2.65"/>
<circle cx="597.40" cy="491.75" r="2.65"/>
<circle cx="555.30" cy="498.99" r="2.65"/>
<circle cx="567.20" cy="498.99" r="2.65"/>
<circle cx="579.50" cy="498.99" r="2.65"/>
<circle cx="591.40" cy="498.99" r="2.65"/>
<circle cx="603.70" cy="498.99" r="2.65"/>
<circle cx="613.60" cy="501.40" r="2.65"/>
<circle cx="585.30" cy="503.82" r="2.65"/>
<circle cx="601.40" cy="506.23" r="2.65"/>
<circle cx="605.80" cy="506.23" r="2.65"/>
<circle cx="549.50" cy="508.65" r="2.65"/>
<circle cx="607.50" cy="513.47" r="2.65"/>
<circle cx="633.60" cy="513.47" r="2.65"/>
<circle cx="619.40" cy="520.71" r="2.65"/>
<circle cx="545.50" cy="530.37" r="2.65"/>
<circle cx="561.40" cy="530.37" r="2.65"/>
<circle cx="589.50" cy="532.78" r="2.65"/>
<circle cx="583.50" cy="537.61" r="2.65"/>
<circle cx="529.40" cy="540.02" r="2.65"/>
<circle cx="541.30" cy="547.26" r="2.65"/>
<circle cx="559.30" cy="542.43" r="2.65"/>
<circle cx="611.50" cy="544.85" r="2.65"/>
<circle cx="531.30" cy="559.33" r="2.65"/>
<circle cx="551.30" cy="561.74" r="2.65"/>
<circle cx="431.00" cy="588.29" r="2.65"/>
<circle cx="441.00" cy="578.64" r="2.65"/>
<circle cx="509.20" cy="600.36" r="2.65"/>
<circle cx="487.10" cy="617.25" r="2.65"/>
<circle cx="525.10" cy="624.49" r="2.65"/>
<circle cx="539.40" cy="568.98" r="2.65"/>
<circle cx="581.50" cy="568.98" r="2.65"/>
<circle cx="593.40" cy="566.57" r="2.65"/>
<circle cx="571.50" cy="581.05" r="2.65"/>
<circle cx="573.20" cy="581.05" r="2.65"/>
<circle cx="599.60" cy="578.64" r="2.65"/>
<circle cx="625.50" cy="576.22" r="2.65"/>
<circle cx="621.50" cy="588.29" r="2.65"/>
<circle cx="629.60" cy="590.70" r="2.65"/>
<circle cx="631.50" cy="600.36" r="2.65"/>
<circle cx="533.40" cy="619.67" r="2.65"/>
<circle cx="587.30" cy="643.80" r="2.65"/>
<circle cx="617.60" cy="670.35" r="2.65"/>
</g>
<line x1="408.50" y1="508.60" x2="646.50" y2="517.40" stroke="#1a1a1a" stroke-width="1.0"/>
<text x="529.60" y="358.00" font-size="14.6" font-weight="bold" letter-spacing="0.22" fill="#000" text-anchor="middle">rho=&#8211;0.15, <tspan font-style="italic">P</tspan>=0.12</text>
<text x="358.60" y="356.20" font-size="19.5" font-weight="bold" fill="#000">d</text>
</svg>
</body></html>
